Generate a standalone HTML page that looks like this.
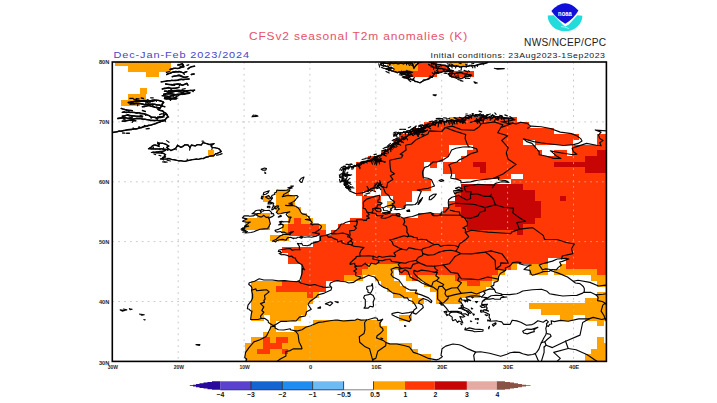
<!DOCTYPE html><html><head><meta charset="utf-8"><title>CFSv2</title><style>html,body{margin:0;padding:0;background:#fff}body{width:717px;height:403px;overflow:hidden;font-family:"Liberation Sans",sans-serif}svg{display:block}text{font-family:"Liberation Sans",sans-serif}</style></head><body>
<svg width="717" height="403" viewBox="0 0 717 403">
<rect width="717" height="403" fill="#fff"/>
<g shape-rendering="crispEdges" id="cells">
<rect x="115.2" y="61.8" width="56.0" height="4.2" fill="#ffa200"/>
<rect x="386.9" y="61.8" width="31.3" height="4.2" fill="#ffa200"/>
<rect x="417.8" y="61.8" width="18.9" height="4.2" fill="#ff3805"/>
<rect x="448.7" y="61.8" width="18.9" height="4.2" fill="#ffa200"/>
<rect x="127.5" y="65.6" width="43.6" height="6.1" fill="#ffa200"/>
<rect x="393.1" y="65.6" width="25.1" height="6.1" fill="#ffa200"/>
<rect x="417.8" y="65.6" width="31.3" height="6.1" fill="#ff3805"/>
<rect x="146.1" y="71.2" width="12.8" height="6.1" fill="#ffa200"/>
<rect x="405.5" y="71.2" width="31.3" height="6.1" fill="#ff3805"/>
<rect x="448.7" y="71.2" width="25.1" height="6.1" fill="#ff3805"/>
<rect x="139.9" y="88.2" width="6.6" height="6.1" fill="#ffa200"/>
<rect x="127.5" y="93.9" width="18.9" height="6.1" fill="#ffa200"/>
<rect x="121.4" y="99.5" width="18.9" height="6.1" fill="#ffa200"/>
<rect x="448.7" y="116.5" width="6.6" height="6.1" fill="#ffa200"/>
<rect x="454.9" y="116.5" width="62.2" height="6.1" fill="#ff3805"/>
<rect x="424.0" y="122.2" width="105.4" height="6.1" fill="#ff3805"/>
<rect x="411.6" y="127.8" width="142.5" height="6.1" fill="#ff3805"/>
<rect x="399.3" y="133.5" width="179.5" height="6.1" fill="#ff3805"/>
<rect x="596.9" y="133.5" width="9.7" height="6.1" fill="#ff3805"/>
<rect x="393.1" y="139.1" width="130.1" height="6.1" fill="#ff3805"/>
<rect x="535.2" y="139.1" width="37.5" height="6.1" fill="#ff3805"/>
<rect x="596.9" y="139.1" width="9.7" height="6.1" fill="#ff3805"/>
<rect x="386.9" y="144.8" width="62.2" height="6.1" fill="#ff3805"/>
<rect x="473.4" y="144.8" width="62.2" height="6.1" fill="#ff3805"/>
<rect x="572.2" y="144.8" width="34.4" height="6.1" fill="#ff3805"/>
<rect x="207.8" y="150.4" width="6.6" height="6.1" fill="#ffa200"/>
<rect x="380.8" y="150.4" width="68.3" height="6.1" fill="#ff3805"/>
<rect x="467.2" y="150.4" width="74.5" height="6.1" fill="#ff3805"/>
<rect x="553.7" y="150.4" width="12.8" height="6.1" fill="#ff3805"/>
<rect x="572.2" y="150.4" width="25.1" height="6.1" fill="#ff3805"/>
<rect x="596.9" y="150.4" width="9.7" height="6.1" fill="#c80505"/>
<rect x="368.4" y="156.1" width="74.5" height="6.1" fill="#ff3805"/>
<rect x="461.1" y="156.1" width="123.9" height="6.1" fill="#ff3805"/>
<rect x="584.6" y="156.1" width="22.0" height="6.1" fill="#c80505"/>
<rect x="356.1" y="161.8" width="68.3" height="6.1" fill="#ff3805"/>
<rect x="430.2" y="161.8" width="6.6" height="6.1" fill="#ff3805"/>
<rect x="442.5" y="161.8" width="31.3" height="6.1" fill="#ff3805"/>
<rect x="473.4" y="161.8" width="12.8" height="6.1" fill="#c80505"/>
<rect x="485.8" y="161.8" width="68.3" height="6.1" fill="#ff3805"/>
<rect x="553.7" y="161.8" width="52.9" height="6.1" fill="#c80505"/>
<rect x="356.1" y="167.4" width="68.3" height="6.1" fill="#ff3805"/>
<rect x="442.5" y="167.4" width="37.5" height="6.1" fill="#ff3805"/>
<rect x="479.6" y="167.4" width="6.6" height="6.1" fill="#c80505"/>
<rect x="485.8" y="167.4" width="99.2" height="6.1" fill="#ff3805"/>
<rect x="584.6" y="167.4" width="22.0" height="6.1" fill="#c80505"/>
<rect x="356.1" y="173.1" width="68.3" height="6.1" fill="#ff3805"/>
<rect x="454.9" y="173.1" width="56.0" height="6.1" fill="#ff3805"/>
<rect x="522.8" y="173.1" width="83.8" height="6.1" fill="#ff3805"/>
<rect x="356.1" y="178.7" width="74.5" height="6.1" fill="#ff3805"/>
<rect x="510.5" y="178.7" width="96.1" height="6.1" fill="#ff3805"/>
<rect x="356.1" y="184.4" width="18.9" height="6.1" fill="#ff3805"/>
<rect x="380.8" y="184.4" width="49.8" height="6.1" fill="#ff3805"/>
<rect x="461.1" y="184.4" width="62.2" height="6.1" fill="#c80505"/>
<rect x="522.8" y="184.4" width="83.8" height="6.1" fill="#ff3805"/>
<rect x="275.8" y="190.0" width="12.8" height="6.1" fill="#ffa200"/>
<rect x="356.1" y="190.0" width="6.6" height="6.1" fill="#ff3805"/>
<rect x="380.8" y="190.0" width="31.3" height="6.1" fill="#ff3805"/>
<rect x="454.9" y="190.0" width="6.6" height="6.1" fill="#ff3805"/>
<rect x="461.1" y="190.0" width="74.5" height="6.1" fill="#c80505"/>
<rect x="535.2" y="190.0" width="71.4" height="6.1" fill="#ff3805"/>
<rect x="263.4" y="195.7" width="6.6" height="6.1" fill="#ffa200"/>
<rect x="275.8" y="195.7" width="18.9" height="6.1" fill="#ffa200"/>
<rect x="362.2" y="195.7" width="18.9" height="6.1" fill="#ff3805"/>
<rect x="393.1" y="195.7" width="18.9" height="6.1" fill="#ff3805"/>
<rect x="454.9" y="195.7" width="80.7" height="6.1" fill="#c80505"/>
<rect x="535.2" y="195.7" width="25.1" height="6.1" fill="#ff3805"/>
<rect x="559.9" y="195.7" width="6.6" height="6.1" fill="#c80505"/>
<rect x="566.1" y="195.7" width="40.5" height="6.1" fill="#ff3805"/>
<rect x="275.8" y="201.4" width="18.9" height="6.1" fill="#ffa200"/>
<rect x="362.2" y="201.4" width="18.9" height="6.1" fill="#ff3805"/>
<rect x="386.9" y="201.4" width="6.6" height="6.1" fill="#ffa200"/>
<rect x="393.1" y="201.4" width="12.8" height="6.1" fill="#ff3805"/>
<rect x="448.7" y="201.4" width="6.6" height="6.1" fill="#ff3805"/>
<rect x="454.9" y="201.4" width="86.9" height="6.1" fill="#c80505"/>
<rect x="541.3" y="201.4" width="65.3" height="6.1" fill="#ff3805"/>
<rect x="275.8" y="207.0" width="25.1" height="6.1" fill="#ffa200"/>
<rect x="362.2" y="207.0" width="18.9" height="6.1" fill="#ff3805"/>
<rect x="442.5" y="207.0" width="18.9" height="6.1" fill="#ff3805"/>
<rect x="461.1" y="207.0" width="80.7" height="6.1" fill="#c80505"/>
<rect x="541.3" y="207.0" width="65.3" height="6.1" fill="#ff3805"/>
<rect x="257.2" y="212.7" width="12.8" height="6.1" fill="#ffa200"/>
<rect x="288.1" y="212.7" width="18.9" height="6.1" fill="#ffa200"/>
<rect x="362.2" y="212.7" width="37.5" height="6.1" fill="#ff3805"/>
<rect x="417.8" y="212.7" width="43.6" height="6.1" fill="#ff3805"/>
<rect x="461.1" y="212.7" width="80.7" height="6.1" fill="#c80505"/>
<rect x="541.3" y="212.7" width="65.3" height="6.1" fill="#ff3805"/>
<rect x="244.9" y="218.3" width="25.1" height="6.1" fill="#ffa200"/>
<rect x="288.1" y="218.3" width="6.6" height="6.1" fill="#ffa200"/>
<rect x="294.3" y="218.3" width="6.6" height="6.1" fill="#ff3805"/>
<rect x="300.5" y="218.3" width="12.8" height="6.1" fill="#ffa200"/>
<rect x="349.9" y="218.3" width="117.7" height="6.1" fill="#ff3805"/>
<rect x="467.2" y="218.3" width="68.3" height="6.1" fill="#c80505"/>
<rect x="535.2" y="218.3" width="71.4" height="6.1" fill="#ff3805"/>
<rect x="244.9" y="224.0" width="25.1" height="6.1" fill="#ffa200"/>
<rect x="281.9" y="224.0" width="6.6" height="6.1" fill="#ffa200"/>
<rect x="288.1" y="224.0" width="31.3" height="6.1" fill="#ff3805"/>
<rect x="319.0" y="224.0" width="6.6" height="6.1" fill="#ffa200"/>
<rect x="337.5" y="224.0" width="130.1" height="6.1" fill="#ff3805"/>
<rect x="467.2" y="224.0" width="56.0" height="6.1" fill="#c80505"/>
<rect x="522.8" y="224.0" width="83.8" height="6.1" fill="#ff3805"/>
<rect x="281.9" y="229.7" width="6.6" height="6.1" fill="#ffa200"/>
<rect x="288.1" y="229.7" width="37.5" height="6.1" fill="#ff3805"/>
<rect x="331.4" y="229.7" width="185.7" height="6.1" fill="#ff3805"/>
<rect x="516.6" y="229.7" width="6.6" height="6.1" fill="#c80505"/>
<rect x="522.8" y="229.7" width="83.8" height="6.1" fill="#ff3805"/>
<rect x="269.6" y="235.3" width="18.9" height="6.1" fill="#ffa200"/>
<rect x="319.0" y="235.3" width="287.6" height="6.1" fill="#ff3805"/>
<rect x="312.8" y="241.0" width="293.8" height="6.1" fill="#ff3805"/>
<rect x="281.9" y="246.6" width="324.7" height="6.1" fill="#ff3805"/>
<rect x="288.1" y="252.3" width="318.5" height="6.1" fill="#ff3805"/>
<rect x="288.1" y="257.9" width="259.8" height="6.1" fill="#ff3805"/>
<rect x="566.1" y="257.9" width="40.5" height="6.1" fill="#ff3805"/>
<rect x="300.5" y="263.6" width="68.3" height="6.1" fill="#ff3805"/>
<rect x="368.4" y="263.6" width="31.3" height="6.1" fill="#ffa200"/>
<rect x="399.3" y="263.6" width="111.6" height="6.1" fill="#ff3805"/>
<rect x="510.5" y="263.6" width="6.6" height="6.1" fill="#ffa200"/>
<rect x="529.0" y="263.6" width="18.9" height="6.1" fill="#ffa200"/>
<rect x="559.9" y="263.6" width="6.6" height="6.1" fill="#ffa200"/>
<rect x="566.1" y="263.6" width="40.5" height="6.1" fill="#ff3805"/>
<rect x="300.5" y="269.3" width="62.2" height="6.1" fill="#ff3805"/>
<rect x="362.2" y="269.3" width="31.3" height="6.1" fill="#ffa200"/>
<rect x="399.3" y="269.3" width="99.2" height="6.1" fill="#ff3805"/>
<rect x="498.1" y="269.3" width="6.6" height="6.1" fill="#ffa200"/>
<rect x="529.0" y="269.3" width="18.9" height="6.1" fill="#ffa200"/>
<rect x="553.7" y="269.3" width="43.6" height="6.1" fill="#ffa200"/>
<rect x="596.9" y="269.3" width="9.7" height="6.1" fill="#ff3805"/>
<rect x="300.5" y="274.9" width="43.6" height="6.1" fill="#ff3805"/>
<rect x="343.7" y="274.9" width="18.9" height="6.1" fill="#ffa200"/>
<rect x="374.6" y="274.9" width="18.9" height="6.1" fill="#ffa200"/>
<rect x="405.5" y="274.9" width="6.6" height="6.1" fill="#ffa200"/>
<rect x="411.6" y="274.9" width="6.6" height="6.1" fill="#ff3805"/>
<rect x="417.8" y="274.9" width="37.5" height="6.1" fill="#ffa200"/>
<rect x="454.9" y="274.9" width="37.5" height="6.1" fill="#ff3805"/>
<rect x="491.9" y="274.9" width="6.6" height="6.1" fill="#ffa200"/>
<rect x="590.8" y="274.9" width="15.8" height="6.1" fill="#ffa200"/>
<rect x="251.1" y="280.6" width="31.3" height="6.1" fill="#ffa200"/>
<rect x="281.9" y="280.6" width="43.6" height="6.1" fill="#ff3805"/>
<rect x="380.8" y="280.6" width="18.9" height="6.1" fill="#ffa200"/>
<rect x="424.0" y="280.6" width="43.6" height="6.1" fill="#ffa200"/>
<rect x="467.2" y="280.6" width="12.8" height="6.1" fill="#ff3805"/>
<rect x="479.6" y="280.6" width="12.8" height="6.1" fill="#ffa200"/>
<rect x="596.9" y="280.6" width="9.7" height="6.1" fill="#ffa200"/>
<rect x="251.1" y="286.2" width="25.1" height="6.1" fill="#ffa200"/>
<rect x="275.8" y="286.2" width="49.8" height="6.1" fill="#ff3805"/>
<rect x="386.9" y="286.2" width="18.9" height="6.1" fill="#ffa200"/>
<rect x="430.2" y="286.2" width="56.0" height="6.1" fill="#ffa200"/>
<rect x="251.1" y="291.9" width="56.0" height="6.1" fill="#ffa200"/>
<rect x="306.7" y="291.9" width="6.6" height="6.1" fill="#ff3805"/>
<rect x="312.8" y="291.9" width="6.6" height="6.1" fill="#ffa200"/>
<rect x="393.1" y="291.9" width="25.1" height="6.1" fill="#ffa200"/>
<rect x="436.4" y="291.9" width="43.6" height="6.1" fill="#ffa200"/>
<rect x="596.9" y="291.9" width="9.7" height="6.1" fill="#ffa200"/>
<rect x="251.1" y="297.5" width="62.2" height="6.1" fill="#ffa200"/>
<rect x="411.6" y="297.5" width="12.8" height="6.1" fill="#ffa200"/>
<rect x="436.4" y="297.5" width="25.1" height="6.1" fill="#ffa200"/>
<rect x="584.6" y="297.5" width="22.0" height="6.1" fill="#ffa200"/>
<rect x="251.1" y="303.2" width="56.0" height="6.1" fill="#ffa200"/>
<rect x="529.0" y="303.2" width="77.6" height="6.1" fill="#ffa200"/>
<rect x="251.1" y="308.9" width="56.0" height="6.1" fill="#ffa200"/>
<rect x="541.3" y="308.9" width="65.3" height="6.1" fill="#ffa200"/>
<rect x="251.1" y="314.5" width="12.8" height="6.1" fill="#ffa200"/>
<rect x="269.6" y="314.5" width="31.3" height="6.1" fill="#ffa200"/>
<rect x="399.3" y="314.5" width="12.8" height="6.1" fill="#ffa200"/>
<rect x="559.9" y="314.5" width="12.8" height="6.1" fill="#ffa200"/>
<rect x="584.6" y="314.5" width="22.0" height="6.1" fill="#ffa200"/>
<rect x="269.6" y="320.2" width="6.6" height="6.1" fill="#ffa200"/>
<rect x="312.8" y="320.2" width="68.3" height="6.1" fill="#ffa200"/>
<rect x="596.9" y="320.2" width="6.6" height="6.1" fill="#ffa200"/>
<rect x="269.6" y="325.8" width="6.6" height="6.1" fill="#ffa200"/>
<rect x="294.3" y="325.8" width="93.0" height="6.1" fill="#ffa200"/>
<rect x="263.4" y="331.5" width="123.9" height="6.1" fill="#ffa200"/>
<rect x="251.1" y="337.2" width="12.8" height="6.1" fill="#ffa200"/>
<rect x="263.4" y="337.2" width="6.6" height="6.1" fill="#ff3805"/>
<rect x="269.6" y="337.2" width="6.6" height="6.1" fill="#ffa200"/>
<rect x="275.8" y="337.2" width="12.8" height="6.1" fill="#ff3805"/>
<rect x="288.1" y="337.2" width="99.2" height="6.1" fill="#ffa200"/>
<rect x="596.9" y="337.2" width="6.6" height="6.1" fill="#ffa200"/>
<rect x="244.9" y="342.8" width="18.9" height="6.1" fill="#ffa200"/>
<rect x="263.4" y="342.8" width="18.9" height="6.1" fill="#ff3805"/>
<rect x="281.9" y="342.8" width="130.1" height="6.1" fill="#ffa200"/>
<rect x="596.9" y="342.8" width="9.7" height="6.1" fill="#ffa200"/>
<rect x="244.9" y="348.5" width="12.8" height="6.1" fill="#ffa200"/>
<rect x="257.2" y="348.5" width="12.8" height="6.1" fill="#ff3805"/>
<rect x="269.6" y="348.5" width="12.8" height="6.1" fill="#ffa200"/>
<rect x="281.9" y="348.5" width="6.6" height="6.1" fill="#ff3805"/>
<rect x="288.1" y="348.5" width="130.1" height="6.1" fill="#ffa200"/>
<rect x="590.8" y="348.5" width="15.8" height="6.1" fill="#ffa200"/>
<rect x="244.9" y="354.1" width="185.7" height="6.1" fill="#ffa200"/>
<rect x="584.6" y="354.1" width="22.0" height="6.1" fill="#ffa200"/>
<rect x="244.9" y="359.8" width="185.7" height="1.8" fill="#ffa200"/>
<rect x="584.6" y="359.8" width="22.0" height="1.8" fill="#ffa200"/>
</g>
<g stroke="#bdbdbd" stroke-width="0.8" stroke-dasharray="1.8 4.1" fill="none" id="gridlines">
<line x1="178.2" y1="62.0" x2="178.2" y2="361.4"/>
<line x1="244.1" y1="62.0" x2="244.1" y2="361.4"/>
<line x1="309.9" y1="62.0" x2="309.9" y2="361.4"/>
<line x1="375.8" y1="62.0" x2="375.8" y2="361.4"/>
<line x1="441.7" y1="62.0" x2="441.7" y2="361.4"/>
<line x1="507.6" y1="62.0" x2="507.6" y2="361.4"/>
<line x1="573.5" y1="62.0" x2="573.5" y2="361.4"/>
<line x1="112.3" y1="301.5" x2="606.4" y2="301.5"/>
<line x1="112.3" y1="241.6" x2="606.4" y2="241.6"/>
<line x1="112.3" y1="181.8" x2="606.4" y2="181.8"/>
<line x1="112.3" y1="121.9" x2="606.4" y2="121.9"/>
</g>
<clipPath id="fc"><rect x="112.3" y="62.0" width="494.1" height="299.4"/></clipPath>
<g clip-path="url(#fc)"><g id="coast" fill="none" stroke="#050505" stroke-width="1.15" stroke-linejoin="round" stroke-linecap="round">
<path d="M298.1 281.2 L296.8 281.8 L290.2 281.2 L284.9 280.6 L278.3 280.9 L272.4 280.0 L263.8 280.0 L259.2 278.8 L254.6 281.2 L249.3 282.7 L248.7 284.2 L251.3 286.5 L252.0 288.3 L251.6 290.3 L252.6 294.3 L252.6 297.9 L251.3 300.9 L248.0 305.1 L247.4 308.7 L249.3 309.3 L250.6 310.8 L252.0 311.1 L251.3 314.1 L250.6 319.5 L257.9 319.5 L261.2 318.5 L264.5 318.3 L268.1 320.7 L268.4 322.5 L273.0 325.5 L275.0 324.9 L281.0 321.3 L286.9 321.3 L293.5 320.7 L296.1 321.0 L299.4 317.1 L305.3 315.9 L306.6 311.7 L311.3 309.3 L308.0 304.5 L309.9 301.5 L315.9 297.3 L317.8 294.9 L324.4 293.1 L331.0 290.1 L331.7 287.7 L329.7 285.4 L330.4 283.0 L334.3 281.2 L337.6 280.6 L340.2 281.2 L345.5 281.8 L348.8 283.0 L353.4 282.4 L356.1 280.6 L359.3 278.8 L364.0 277.6 L368.6 275.2 L374.5 277.0 L377.8 280.6 L379.1 284.2 L383.1 287.1 L387.7 288.9 L390.3 291.3 L392.9 293.1 L399.5 294.3 L403.5 296.7 L404.1 297.9 L407.4 297.9 L408.8 300.3 L412.7 301.5 L415.3 305.1 L416.7 308.1 L414.0 309.9 L413.0 312.9 L416.0 314.1 L419.3 311.1 L423.3 307.5 L422.6 305.1 L418.6 303.3 L419.3 300.9 L423.3 298.5 L427.9 300.3 L431.2 302.7 L431.8 300.9 L428.5 297.9 L421.3 294.9 L415.3 293.1 L416.7 290.1 L410.7 290.1 L408.8 289.5 L403.5 286.5 L398.9 280.0 L392.9 277.0 L391.0 274.6 L392.3 272.2 L391.0 269.2 L396.2 267.4 L400.9 268.0 L398.9 268.9 L399.5 271.6 L401.5 272.8 L403.5 271.0 L404.8 269.8 L408.1 271.6 L410.1 277.0 L414.7 279.4 L418.0 280.6 L421.9 283.0 L429.2 286.0 L433.1 287.1 L435.8 288.9 L437.7 290.7 L437.7 293.7 L437.7 299.1 L441.0 302.1 L441.7 303.3 L443.0 304.5 L446.3 308.1 L448.9 311.7 L450.9 311.4 L453.6 311.4 L457.5 311.4 L461.5 312.3 L461.5 313.8 L456.9 312.3 L453.2 312.0 L450.3 312.6 L448.9 314.7 L452.2 317.1 L452.2 319.5 L452.9 320.7 L455.5 319.5 L457.5 322.5 L458.8 321.0 L462.8 322.8 L461.5 320.1 L459.8 316.5 L462.8 317.1 L464.8 316.5 L461.5 314.1 L465.4 313.8 L468.1 315.6 L468.7 313.5 L466.1 310.5 L463.4 309.6 L460.8 308.4 L458.8 308.4 L461.5 307.5 L461.1 305.4 L463.4 306.6 L462.8 305.1 L460.8 302.1 L458.8 301.5 L459.5 299.1 L460.8 297.9 L461.5 299.7 L464.1 300.3 L465.4 301.8 L464.8 300.0 L467.7 301.8 L466.7 299.7 L470.7 300.6 L467.4 299.1 L466.1 297.3 L470.7 296.1 L474.6 295.8 L480.6 296.4 L481.6 297.0 L486.5 297.6 L482.5 301.2 L485.8 299.1 L491.1 295.8 L495.7 295.2 L500.7 295.5 L501.7 294.0 L495.7 292.5 L494.4 289.5 L491.1 286.5 L493.7 285.4 L494.1 282.4 L497.7 281.2 L498.4 279.1 L498.7 276.4 L500.3 273.4 L505.6 270.4 L505.3 268.0 L508.9 266.5 L510.9 265.0 L512.5 262.6 L517.5 262.0 L520.8 262.6 L519.4 263.8 L524.0 265.0 L531.3 265.0 L527.3 266.8 L524.0 269.5 L530.0 270.4 L531.0 274.0 L532.3 275.2 L534.9 274.6 L540.5 272.8 L543.2 271.6 L549.7 271.3 L550.4 269.5 L545.8 268.9 L542.5 269.8 L539.2 265.0 L542.5 263.8 L552.4 261.1 L557.3 259.0 L566.2 258.4 L568.8 259.0 L562.3 261.4 L559.6 262.0 L561.3 265.3 L558.3 267.4 L556.3 269.8 L551.7 269.5 L551.1 270.7 L555.7 272.2 L559.0 273.4 L567.5 277.0 L571.5 280.0 L575.4 283.0 L580.0 283.6 L583.3 286.5 L584.3 288.6 L584.3 291.6 L582.7 293.1 L576.8 295.4 L571.5 295.5 L562.9 296.0 L559.6 295.5 L554.4 294.6 L549.4 293.7 L547.1 291.3 L541.5 289.2 L532.3 289.7 L522.7 291.0 L519.4 292.8 L516.8 293.7 L509.6 294.6 L504.9 294.5 L501.7 294.3 L501.3 295.5 L504.3 297.0 L506.9 297.0 L501.0 297.6 L500.3 299.3 L494.4 299.1 L493.1 298.5 L489.8 299.1 L485.8 299.1 L483.9 300.6 L482.2 301.8 L481.6 304.5 L487.5 304.2 L485.8 305.7 L487.2 308.1 L486.2 309.6 L488.5 311.1 L483.9 309.6 L483.2 311.7 L486.5 312.9 L489.5 314.4 L489.1 317.4 L490.5 319.5 L489.8 321.3 L496.4 320.7 L498.4 321.3 L501.7 321.9 L503.6 324.3 L510.2 324.3 L512.2 320.2 L516.8 320.9 L520.8 322.2 L526.4 325.3 L532.0 324.6 L533.9 323.7 L537.9 320.7 L543.2 322.2 L546.4 320.1 L548.4 321.9 L546.4 323.7 L546.8 325.2 L545.8 328.5 L546.4 332.1 L545.8 334.8 L543.8 338.0 L542.8 340.1 L541.8 341.9 L540.5 344.6 L538.9 349.1 L536.6 352.4 L535.2 353.6 L532.6 354.5 L528.0 355.1 L522.7 353.8 L519.4 352.4 L514.2 352.1 L510.2 352.7 L506.9 354.2 L500.7 356.3 L489.5 353.3 L480.6 351.8 L475.6 352.1 L468.1 348.9 L462.1 345.8 L459.2 344.8 L452.9 344.0 L445.7 346.1 L442.0 348.8 L441.0 355.4 L442.4 356.6 L439.1 359.0 L436.4 359.9 L428.5 358.4 L419.3 354.2 L413.4 352.4 L409.4 347.0 L404.1 345.5 L396.9 344.0 L389.7 343.9 L386.0 342.5 L383.1 340.4 L376.5 338.0 L377.1 335.7 L380.8 333.0 L383.1 330.3 L382.7 328.5 L380.1 326.5 L379.8 323.1 L382.7 319.2 L379.8 320.4 L377.8 320.4 L377.1 318.3 L374.8 317.7 L367.6 319.8 L361.0 320.1 L357.4 319.0 L355.4 320.1 L347.8 320.6 L343.5 321.0 L337.6 320.1 L335.6 320.0 L330.0 320.7 L323.1 321.9 L318.5 322.4 L310.6 325.8 L305.7 327.3 L302.0 329.7 L297.8 330.9 L295.4 330.9 L290.5 329.7 L290.2 328.8 L283.9 330.0 L278.3 329.7 L275.0 327.9 L275.0 326.1 L270.9 326.7 L270.1 328.8 L269.4 330.3 L266.5 336.0 L264.8 337.3 L259.9 339.8 L253.9 341.9 L249.0 347.6 L245.6 352.4 L244.7 357.6 L246.7 359.0 L246.0 361.4"/>
<path d="M298.1 281.2 L299.7 280.6 L300.7 277.6 L302.0 273.7 L302.4 268.6 L304.7 269.8 L303.4 268.0 L302.0 264.7 L298.1 262.6 L296.1 260.2 L295.4 258.1 L293.5 257.8 L291.5 256.0 L289.5 256.6 L287.5 255.4 L283.6 254.5 L281.3 254.8 L279.0 253.3 L281.6 253.0 L280.3 251.5 L278.3 251.5 L279.0 250.0 L283.6 249.4 L286.9 248.8 L290.2 248.5 L292.2 250.3 L294.8 249.7 L296.8 249.7 L300.1 249.7 L299.4 248.5 L299.4 246.4 L297.4 243.4 L299.4 243.7 L301.7 243.4 L302.7 245.2 L307.3 245.8 L310.6 244.6 L311.3 243.4 L312.6 243.1 L317.2 241.9 L320.5 240.4 L320.5 237.4 L320.5 236.4 L322.1 236.0 L325.8 235.4 L329.0 234.2 L331.0 233.6 L333.7 233.0 L334.3 231.5 L337.0 229.7 L338.9 227.9 L341.2 224.0 L343.5 223.7 L345.5 222.5 L349.5 221.3 L355.4 221.3 L357.4 221.9 L356.4 220.1 L357.4 219.8 L362.6 219.5 L363.6 220.7 L364.6 220.1 L366.3 220.4 L367.3 218.3 L369.2 218.3 L368.6 217.1 L366.6 215.9 L369.2 214.7 L367.3 212.3 L365.3 208.7 L363.3 208.4 L363.6 205.7 L363.3 202.7 L364.0 201.5 L366.6 199.1 L375.5 196.1 L379.8 195.2 L379.4 197.3 L379.1 199.7 L377.8 200.0 L377.8 202.1 L381.7 202.7 L382.1 203.3 L380.4 204.8 L377.5 204.8 L377.1 206.9 L374.2 208.4 L372.5 208.7 L373.2 210.5 L372.2 211.7 L372.2 212.9 L375.8 213.5 L376.8 215.6 L381.1 215.6 L383.1 215.3 L381.1 217.7 L381.7 218.0 L385.4 218.3 L389.7 216.8 L392.3 215.0 L395.6 215.3 L400.2 216.8 L403.5 218.3 L407.4 217.4 L412.4 216.5 L418.6 214.4 L425.6 213.2 L430.5 212.6 L433.8 214.1 L431.5 213.2 L432.1 214.7 L433.1 215.6 L437.7 215.6 L441.0 215.0 L441.0 213.8 L441.4 212.0 L445.0 212.0 L448.9 207.5 L448.6 206.3 L448.3 202.7 L448.6 199.7 L451.9 197.3 L458.8 195.2 L462.1 197.6 L466.7 199.9 L468.7 199.4 L470.7 198.5 L470.4 195.2 L471.3 191.6 L466.1 191.6 L464.8 189.5 L464.8 188.0 L464.1 186.6 L468.4 185.7 L473.0 185.1 L477.9 184.2 L484.5 184.8 L494.4 185.1 L495.1 183.6 L497.7 182.7 L501.7 181.8 L508.9 182.4 L505.6 180.6 L498.4 179.7 L499.0 177.6 L493.1 178.5 L487.5 179.1 L478.9 180.0 L474.3 180.9 L470.7 181.9 L461.1 182.8 L460.8 180.6 L456.5 179.1 L450.9 178.2 L450.9 177.0 L451.6 175.0 L451.3 172.2 L450.6 168.3 L448.9 165.0 L452.2 163.2 L456.9 162.0 L459.5 159.6 L462.1 158.7 L466.1 156.6 L471.0 153.6 L477.6 151.8 L476.6 148.8 L471.7 147.3 L469.0 146.7 L462.8 147.0 L455.9 148.2 L451.6 150.0 L449.9 153.6 L448.3 156.6 L443.7 159.6 L437.1 162.0 L433.1 162.0 L428.2 166.2 L424.6 167.4 L422.6 171.6 L422.6 174.0 L423.3 177.6 L427.9 178.2 L431.5 179.7 L433.1 183.3 L434.5 186.0 L428.2 188.3 L421.9 189.2 L417.3 190.1 L421.3 191.3 L419.6 195.2 L418.3 198.2 L417.7 201.8 L415.3 204.5 L412.7 204.8 L406.8 204.8 L404.1 206.3 L404.5 208.4 L400.9 209.3 L396.6 209.6 L394.3 209.3 L395.6 208.1 L393.6 205.4 L392.0 203.9 L394.3 203.0 L394.6 201.8 L390.6 199.1 L388.7 195.5 L385.7 193.1 L385.0 191.9 L383.4 188.0 L383.1 187.1 L382.1 186.6 L380.1 185.1 L380.4 182.4 L378.8 184.2 L379.1 186.0 L376.1 187.7 L371.9 188.6 L367.9 191.0 L362.6 192.8 L356.4 193.7 L354.7 193.1 L349.5 191.0 L347.5 188.0 L350.1 187.7 L346.8 186.0 L344.5 185.4 L344.2 183.0 L347.5 182.4 L343.5 180.6 L342.6 179.4 L342.2 177.0 L342.9 175.5 L349.5 175.2 L342.9 174.3 L342.9 172.2 L343.5 170.1 L343.5 168.6 L350.5 166.8 L357.0 165.3 L361.0 163.2 L365.9 161.4 L373.8 159.6 L381.1 161.1 L373.2 157.8 L379.1 155.4 L383.7 154.5 L383.7 152.7 L390.3 148.8 L392.9 145.8 L395.6 142.8 L404.8 138.0 L408.8 135.1 L412.7 133.3 L424.6 131.5 L415.3 131.5 L419.0 129.1 L425.2 127.3 L434.8 124.0 L438.4 121.9 L447.0 121.3 L451.6 120.1 L463.4 121.9 L466.1 118.0 L471.3 115.9 L479.9 115.0 L484.5 116.5 L474.6 121.3 L483.2 119.5 L492.4 115.3 L497.7 118.9 L497.7 116.5 L505.6 117.7 L514.8 119.8 L505.9 121.5 L501.0 121.6 L507.9 123.4 L512.9 123.1 L516.1 124.0 L520.8 122.2 L527.3 123.4 L530.6 126.1 L527.7 128.2 L531.3 126.1 L541.2 126.7 L550.4 128.5 L560.3 132.1 L571.5 133.6 L576.8 135.7 L580.7 138.6 L582.0 141.0 L578.1 143.4 L573.5 144.6 L563.6 145.5 L550.4 144.0 L540.5 142.8 L533.9 141.6 L523.4 138.9 L526.7 141.6 L532.0 143.4 L539.2 151.8 L539.2 154.8 L545.8 156.0 L553.7 158.4 L560.9 158.4 L555.7 155.4 L552.4 152.4 L550.4 150.9 L560.3 152.7 L571.5 154.5 L576.8 154.2 L573.5 151.8 L572.1 148.2 L578.1 146.1 L586.6 143.4 L596.5 145.2 L601.1 145.8 L599.8 142.8 L603.1 140.4 L599.8 138.6 L598.5 135.1 L601.1 132.1 L595.2 130.0 L606.4 130.9"/>
<path d="M272.4 241.2 L273.7 240.4 L276.3 239.2 L277.3 238.3 L280.3 235.7 L282.3 235.1 L282.9 234.5 L286.9 234.5 L290.2 234.5 L290.2 233.6 L292.2 232.4 L293.5 231.5 L290.2 232.4 L288.9 233.0 L286.2 233.3 L283.9 232.1 L281.6 232.4 L281.0 231.5 L279.0 231.8 L277.0 232.1 L275.7 231.5 L275.0 230.4 L277.0 229.7 L279.0 229.1 L282.9 227.3 L283.3 225.2 L282.6 224.3 L278.6 224.9 L280.3 223.7 L281.6 222.8 L279.3 221.9 L281.6 221.3 L283.3 221.9 L284.6 221.7 L287.5 221.7 L289.5 222.2 L288.9 221.3 L289.8 221.0 L289.8 219.8 L289.8 218.9 L291.2 217.1 L288.5 217.1 L286.2 214.7 L286.6 213.8 L288.2 212.3 L289.8 211.9 L286.2 212.5 L283.6 212.9 L281.0 213.5 L278.0 213.9 L276.3 212.3 L277.0 211.7 L278.0 210.2 L279.3 209.0 L277.7 207.5 L278.6 206.0 L277.7 205.7 L275.0 206.6 L273.4 209.3 L271.7 209.9 L272.4 207.5 L274.0 205.7 L273.0 205.1 L273.7 203.3 L272.4 202.7 L269.1 201.4 L271.4 199.7 L272.4 197.9 L271.4 196.4 L272.4 195.2 L275.0 194.3 L274.4 193.1 L276.3 192.2 L277.0 190.0 L279.0 190.4 L283.6 190.4 L286.9 190.1 L287.5 189.7 L289.8 189.9 L289.5 191.0 L286.9 192.8 L283.6 194.5 L283.3 195.5 L282.3 196.7 L284.6 196.1 L288.2 195.4 L293.5 195.7 L296.8 195.5 L298.2 196.7 L296.1 198.8 L295.4 200.0 L293.8 201.5 L290.5 203.0 L288.9 203.3 L291.5 203.6 L292.8 204.0 L289.2 205.1 L287.5 205.7 L285.6 205.4 L288.9 205.8 L292.2 205.4 L293.5 205.7 L295.8 206.3 L296.8 207.1 L298.1 207.8 L299.4 209.3 L300.5 211.7 L300.9 212.3 L302.0 213.5 L302.4 213.9 L306.0 214.7 L307.3 216.0 L309.4 217.0 L308.6 217.2 L310.6 220.1 L307.6 219.4 L305.3 219.5 L309.5 220.3 L311.3 221.3 L312.2 222.8 L310.6 224.0 L312.6 224.9 L313.2 224.0 L318.5 224.1 L321.4 226.1 L321.5 226.8 L320.5 228.8 L318.8 230.0 L317.5 231.0 L316.2 231.2 L316.2 232.1 L314.6 232.5 L312.6 232.8 L314.9 233.0 L316.7 233.4 L319.0 233.3 L319.3 233.7 L319.2 234.3 L318.6 234.9 L317.7 235.2 L316.3 236.2 L313.8 236.6 L311.6 237.2 L309.0 236.7 L304.7 237.3 L302.7 236.8 L300.7 236.3 L301.4 236.8 L299.7 237.1 L297.6 237.3 L296.4 238.2 L293.8 238.0 L293.7 238.6 L290.6 237.3 L287.5 237.9 L286.8 238.9 L286.0 240.3 L282.7 239.4 L279.4 239.7 L276.7 240.7 L275.7 241.9 L273.5 240.9 L272.4 241.2"/>
<path d="M261.4 209.4 L264.2 210.2 L263.2 211.1 L264.2 210.5 L266.1 210.5 L269.4 210.3 L271.7 212.6 L271.1 213.8 L273.4 213.6 L274.0 215.3 L272.7 216.4 L269.8 217.6 L268.1 217.7 L269.1 218.9 L269.8 221.6 L269.9 222.5 L270.4 223.9 L269.6 224.9 L269.1 226.4 L268.1 227.7 L268.0 228.6 L264.3 228.9 L259.9 229.2 L258.2 230.0 L255.6 230.9 L253.9 231.8 L251.0 232.5 L248.3 232.8 L245.2 233.0 L247.4 231.5 L242.7 232.2 L246.0 230.6 L241.8 230.3 L244.7 229.1 L241.0 229.1 L242.7 227.9 L245.0 228.0 L244.4 227.1 L248.7 226.1 L244.5 226.3 L247.6 224.0 L248.9 222.8 L250.3 222.1 L246.7 222.3 L242.5 221.3 L244.7 220.1 L247.0 218.9 L242.4 217.9 L244.1 215.9 L248.3 215.7 L249.3 216.2 L253.3 215.9 L256.6 213.9 L252.0 213.7 L254.3 212.3 L255.4 210.8 L257.4 210.3 L259.7 210.0 L260.5 211.4 L261.4 209.4"/>
<path d="M262.2 211.4 L260.2 213.2 L257.9 213.5 L256.2 215.0 L260.2 216.9 L261.8 216.9 L263.8 215.3 L266.1 217.4 L268.6 217.1"/>
<path d="M160.4 159.0 L165.3 156.9 L164.3 156.0 L165.7 154.5 L161.7 153.0 L151.5 152.5 L158.4 151.8 L163.7 151.2 L166.3 149.4 L161.7 148.8 L155.1 149.1 L148.5 148.8 L151.8 147.0 L152.5 145.8 L155.1 144.9 L159.1 146.4 L157.8 143.3 L162.4 143.0 L166.3 144.6 L169.0 146.1 L167.0 147.6 L170.9 150.6 L175.5 148.2 L177.5 145.2 L180.8 147.3 L184.8 144.9 L188.1 144.9 L190.0 147.6 L191.4 144.9 L195.3 145.8 L197.3 144.6 L201.2 144.9 L203.2 142.7 L205.2 143.1 L209.1 144.6 L214.1 143.6 L211.1 145.8 L212.4 147.3 L217.7 148.2 L220.3 150.0 L221.0 151.3 L218.4 153.0 L215.7 153.9 L213.8 155.4 L209.8 156.3 L203.2 158.4 L200.2 159.0 L192.7 159.6 L184.8 161.4 L176.9 160.5 L169.0 158.7 L160.4 159.0"/>
<path d="M364.0 308.1 L365.3 306.3 L365.3 299.7 L363.6 297.9 L364.6 295.5 L368.6 294.6 L370.5 294.0 L373.2 295.5 L374.5 298.5 L373.2 302.1 L373.5 305.7 L372.9 306.9 L369.9 306.3 L368.2 308.1 L364.0 308.1"/>
<path d="M372.2 283.6 L371.5 285.7 L366.9 286.5 L366.6 288.9 L367.9 290.1 L367.9 292.2 L370.5 293.3 L371.9 290.7 L372.9 288.3 L372.5 285.4 L372.2 283.6"/>
<path d="M392.0 313.5 L394.9 312.9 L397.9 312.3 L402.2 313.5 L408.8 312.6 L412.7 311.7 L410.7 314.7 L409.4 316.8 L410.7 319.5 L409.4 321.6 L404.8 320.1 L399.5 318.3 L394.9 316.2 L392.0 314.7 L392.0 313.5"/>
<path d="M325.4 303.9 L330.4 301.8 L332.7 303.0 L330.0 305.7 L327.7 304.5 L325.4 303.9"/>
<path d="M335.0 301.5 L338.3 302.1 L337.9 302.7 L335.0 301.5"/>
<path d="M317.8 308.1 L320.5 306.9 L320.5 308.1 L317.8 308.1"/>
<path d="M464.8 329.7 L469.4 327.9 L474.6 329.1 L479.9 329.4 L483.2 329.7 L482.9 331.2 L474.6 331.8 L472.7 330.9 L465.4 330.0 L464.8 329.7 L465.4 327.9 L464.8 329.7"/>
<path d="M522.7 331.2 L526.7 329.1 L531.6 329.4 L537.9 327.3 L533.9 329.7 L534.3 331.6 L531.3 332.4 L527.3 333.9 L523.7 333.0 L522.7 331.2"/>
<path d="M492.4 324.6 L495.7 322.8 L496.1 323.7 L493.4 326.1 L492.4 324.6"/>
<path d="M461.5 307.8 L464.1 307.5 L468.7 309.6 L471.7 312.6 L470.0 313.5 L468.4 311.1 L465.4 310.5 L462.8 308.7 L461.5 307.8"/>
<path d="M480.2 306.0 L483.9 305.4 L485.2 307.2 L481.9 307.5 L480.2 306.0"/>
<path d="M480.6 310.2 L482.2 310.2 L481.9 312.3 L480.6 312.0 L480.6 310.2"/>
<path d="M485.2 314.7 L488.1 315.0 L486.5 315.6 L485.2 314.7"/>
<path d="M439.4 303.0 L441.4 302.7 L441.0 304.8 L442.4 305.1 L439.4 303.0"/>
<path d="M444.0 311.7 L447.0 311.1 L446.6 312.9 L445.0 312.9 L444.0 311.7"/>
<path d="M446.0 314.1 L448.0 315.0 L447.0 315.6 L446.0 314.1"/>
<path d="M475.3 301.5 L477.6 301.5 L476.6 302.7 L475.3 301.5"/>
<path d="M471.7 297.0 L473.3 297.3 L472.3 297.9 L471.7 297.0"/>
<path d="M472.7 313.8 L474.3 314.4 L473.7 315.3 L472.7 313.8"/>
<path d="M477.3 318.6 L478.6 318.9 L477.9 319.8 L477.3 318.6"/>
<path d="M475.3 318.9 L476.3 318.9 L476.0 319.5 L475.3 318.9"/>
<path d="M470.4 321.0 L471.7 321.3 L471.0 321.6 L470.4 321.0"/>
<path d="M477.3 322.8 L477.9 323.1 L477.3 323.4 L477.3 322.8"/>
<path d="M487.5 320.1 L489.8 320.4 L487.8 321.0 L487.5 320.1"/>
<path d="M488.5 327.9 L489.5 326.4 L488.8 328.8 L488.5 327.9"/>
<path d="M460.8 323.7 L462.1 324.0 L461.5 324.6 L460.8 323.7"/>
<path d="M471.3 308.1 L472.7 308.7 L471.7 309.0 L471.3 308.1"/>
<path d="M404.5 325.5 L405.8 326.1 L404.8 326.5 L404.5 325.5"/>
<path d="M380.8 338.0 L382.7 338.6 L381.4 339.2 L380.8 338.0"/>
<path d="M381.7 207.5 L384.4 207.2 L387.3 206.0 L391.0 205.1 L392.9 205.7 L392.6 207.8 L390.3 209.0 L391.6 210.2 L389.0 212.0 L387.3 210.8 L383.7 210.5 L383.1 207.8 L381.7 207.5"/>
<path d="M374.5 208.7 L377.8 208.1 L380.8 208.7 L381.1 211.1 L379.1 211.7 L376.5 211.1 L374.5 208.7"/>
<path d="M382.4 212.9 L387.7 212.3 L388.7 213.5 L385.7 214.1 L382.4 212.9"/>
<path d="M388.3 212.3 L390.3 212.0 L389.7 213.5 L388.3 212.3"/>
<path d="M406.8 210.5 L409.4 209.9 L409.7 211.4 L407.1 211.4 L406.8 210.5"/>
<path d="M396.2 214.1 L398.2 213.5 L400.2 214.4 L399.5 215.9 L396.9 215.9 L396.2 214.1"/>
<path d="M418.0 204.5 L419.6 200.6 L422.6 197.6 L421.3 200.3 L418.6 204.2 L418.0 204.5"/>
<path d="M429.2 199.7 L429.5 196.7 L433.5 194.3 L436.4 194.0 L433.8 197.3 L430.8 199.7 L429.2 199.7"/>
<path d="M453.9 191.9 L453.6 190.7 L458.2 190.1 L462.8 190.7 L461.5 191.6 L456.9 192.5 L454.9 194.0 L453.9 191.9"/>
<path d="M455.5 188.3 L458.8 187.1 L461.8 188.6 L458.8 189.5 L455.5 188.3"/>
<path d="M439.1 180.6 L441.7 179.4 L443.7 180.6 L441.0 181.5 L439.1 180.6"/>
<path d="M261.2 169.2 L264.5 168.0 L266.5 168.6 L265.8 170.1 L262.5 170.1 L261.2 169.2"/>
<path d="M264.8 172.2 L265.8 173.1 L265.1 173.4 L264.8 172.2"/>
<path d="M299.4 180.6 L301.4 178.2 L304.0 177.0 L303.0 179.4 L302.0 182.4 L301.0 182.4 L299.4 180.6"/>
<path d="M287.9 187.7 L290.8 187.1 L292.2 188.0 L289.5 188.6 L287.9 187.7"/>
<path d="M290.8 186.0 L293.5 186.0 L292.2 186.6 L290.8 186.0"/>
<path d="M269.1 190.7 L263.8 192.5 L263.2 194.9 L265.8 194.3 L268.1 192.8 L269.1 190.7"/>
<path d="M261.8 196.1 L261.2 198.5 L262.2 199.1 L263.2 196.4 L261.8 196.1"/>
<path d="M268.4 195.5 L265.5 197.0 L268.4 198.8 L272.1 198.5 L269.8 197.0 L268.4 195.5"/>
<path d="M268.4 202.1 L272.4 203.0 L271.1 203.9 L268.1 203.9 L268.4 202.1"/>
<path d="M267.4 206.3 L269.8 206.3 L269.8 207.8 L267.4 207.5 L267.4 206.3"/>
<path d="M274.7 207.5 L276.3 208.1 L276.0 209.0 L274.7 208.7 L274.7 207.5"/>
<path d="M278.3 217.1 L281.0 215.3 L281.3 216.5 L278.3 217.1"/>
<path d="M299.7 237.4 L302.7 237.4 L301.4 238.2 L299.7 237.4"/>
<path d="M253.3 115.0 L257.2 115.6 L257.9 116.2 L252.0 116.8 L253.3 115.0"/>
<path d="M433.1 94.9 L436.4 94.9 L435.1 95.8 L433.1 94.9"/>
<path d="M474.0 81.8 L477.3 83.0 L475.3 83.3 L474.0 81.8"/>
<path d="M196.0 344.6 L199.9 344.6 L199.3 345.5 L196.0 344.6"/>
<path d="M120.2 309.9 L124.8 310.5 L122.2 311.1 L120.2 309.9"/>
<path d="M129.4 308.7 L132.1 309.3 L130.1 309.6 L129.4 308.7"/>
<path d="M139.6 314.1 L144.3 314.7 L141.9 315.3 L139.6 314.1"/>
<path d="M143.9 319.5 L145.2 319.8 L144.6 319.9 L143.9 319.5"/>
<path d="M123.5 309.0 L126.8 309.9 L125.5 310.2"/>
<path d="M420.0 82.7 L412.1 80.0 L402.2 77.0 L412.1 76.4 L400.2 73.4 L412.1 72.2 L395.6 72.2 L385.7 68.6 L392.3 68.0 L380.4 65.0 L381.1 63.5 L389.0 63.2 L402.2 63.2 L412.7 63.2 L414.0 68.0 L418.6 62.6 L417.3 62.0"/>
<path d="M428.5 64.4 L435.1 68.0 L451.6 70.4 L435.1 72.8 L431.8 77.0 L425.2 80.0 L420.0 82.7"/>
<path d="M428.5 62.0 L435.1 63.8 L445.0 65.6 L461.5 66.8 L474.6 65.6 L487.8 62.6 L487.8 62.0"/>
<path d="M448.3 74.0 L461.5 72.8 L471.3 75.2 L461.5 78.2 L451.6 77.0 L448.3 74.0"/>
<path d="M447.0 71.0 L453.6 70.7 L452.2 72.5 L447.0 71.0"/>
<path d="M494.4 68.3 L504.3 68.6 L497.7 69.2 L494.4 68.3"/>
<path d="M393.6 136.0 L398.9 133.3 L405.5 132.1 L410.1 130.3 L413.4 127.9 L416.0 126.1"/>
<path d="M404.1 133.0 L410.1 132.1 L415.3 130.6"/>
<path d="M421.9 125.5 L427.9 124.6 L425.9 126.7 L421.9 125.5"/>
<path d="M461.5 118.9 L465.4 117.1 L468.1 118.6"/>
<path d="M251.6 290.3 L255.9 288.9 L256.6 290.7 L262.5 290.1 L266.8 289.8 L269.1 291.9 L264.5 295.5 L265.1 299.1 L263.8 300.3 L264.5 302.1 L260.5 303.6 L263.8 306.9 L261.8 310.5 L263.8 312.3 L260.5 316.2 L261.2 318.5"/>
<path d="M298.1 281.2 L300.7 283.0 L305.3 284.2 L309.9 285.4 L314.6 284.5 L319.2 286.0 L321.1 286.5 L323.1 287.1 L326.4 287.4 L331.0 287.0"/>
<path d="M359.3 278.8 L360.7 277.0 L356.1 275.8 L355.4 274.6 L356.1 272.5 L353.8 271.0 L356.7 269.2 L354.7 266.8 L356.4 266.2"/>
<path d="M356.4 266.2 L354.7 264.7 L354.7 263.2 L350.1 264.4 L350.1 263.2 L352.4 260.8 L356.1 257.8 L356.1 256.6 L360.0 256.0"/>
<path d="M360.0 256.0 L359.7 253.6 L361.3 250.0 L364.0 247.6 L358.7 246.7 L354.1 246.4 L351.8 244.9"/>
<path d="M351.8 244.9 L348.2 244.3 L345.5 244.0 L341.9 242.8 L341.9 240.7 L337.6 241.9 L337.3 239.8 L333.7 238.6 L331.0 237.1 L328.4 237.1 L326.7 235.1"/>
<path d="M351.8 244.9 L352.8 242.8 L350.5 240.7 L347.8 242.8 L348.2 244.3"/>
<path d="M350.5 240.7 L352.1 239.5 L349.5 237.1"/>
<path d="M349.5 237.1 L347.5 236.8 L348.5 234.8 L342.9 233.0 L338.3 233.6 L332.3 233.9"/>
<path d="M349.5 237.1 L350.1 234.5 L349.5 230.9 L354.1 230.3 L356.4 228.2 L354.1 226.1 L356.4 225.8 L357.4 221.9"/>
<path d="M366.9 212.3 L372.2 212.9"/>
<path d="M403.8 218.3 L404.8 221.9 L403.2 224.6 L406.5 226.4 L407.1 229.7 L406.8 232.1 L408.8 235.1 L407.4 236.6"/>
<path d="M407.4 236.6 L404.1 235.7 L398.9 237.4 L392.3 239.5 L389.7 239.8 L392.3 242.2 L393.3 244.9 L398.2 247.6 L401.2 249.1"/>
<path d="M401.2 249.1 L398.5 250.3 L395.6 252.1 L393.9 253.0 L395.6 255.4 L394.9 256.6 L390.3 256.0 L382.4 257.2 L378.8 256.3 L377.1 257.8 L373.2 256.3"/>
<path d="M373.2 256.3 L368.6 255.7 L365.3 256.0 L360.0 256.0"/>
<path d="M373.2 256.3 L372.9 259.0 L378.8 260.2 L378.8 262.3"/>
<path d="M356.4 266.2 L361.7 265.9 L365.3 263.2 L365.6 264.1 L369.2 266.5 L371.2 263.2 L376.1 264.1 L378.8 262.3"/>
<path d="M378.8 260.5 L382.4 260.8 L385.7 259.6 L390.3 259.3 L391.6 261.4 L400.2 262.6"/>
<path d="M400.2 262.6 L398.2 264.4 L399.5 266.8 L400.9 268.0"/>
<path d="M400.2 262.6 L405.5 263.2 L408.8 261.7 L416.0 260.5"/>
<path d="M416.0 260.5 L418.6 257.2 L422.6 255.4 L422.9 253.6"/>
<path d="M422.9 253.6 L421.6 250.0 L415.3 249.1 L408.8 247.6 L406.8 250.0 L401.2 249.1"/>
<path d="M407.4 236.6 L410.7 236.0 L414.0 237.4 L417.3 237.7 L417.3 239.8 L421.3 239.2 L426.5 239.8 L428.5 241.6 L434.1 244.6"/>
<path d="M434.1 244.6 L429.2 247.0 L423.3 248.5 L421.6 250.0"/>
<path d="M434.1 244.6 L438.4 244.3 L440.4 246.4 L443.7 245.5 L448.3 245.2 L454.9 245.5 L458.5 247.0"/>
<path d="M422.9 253.6 L427.9 255.1 L433.8 254.8 L438.4 252.4 L445.0 250.6 L450.9 250.3 L455.9 251.2"/>
<path d="M455.9 251.2 L458.5 247.0"/>
<path d="M458.5 247.0 L459.5 244.0 L466.1 239.2 L468.7 236.6 L465.4 232.7"/>
<path d="M465.4 232.7 L465.4 229.1 L462.8 227.9 L467.4 225.5 L467.4 222.5 L464.8 218.0"/>
<path d="M464.8 218.0 L460.1 215.3"/>
<path d="M460.1 215.3 L439.4 215.0"/>
<path d="M460.1 215.3 L459.5 212.0 L454.9 211.4 L450.3 210.2"/>
<path d="M464.8 218.0 L470.7 218.3 L477.9 215.9 L479.9 212.3 L485.2 210.8 L485.2 207.6"/>
<path d="M448.6 205.3 L454.9 203.3 L468.1 203.9 L474.6 204.5 L485.2 207.6"/>
<path d="M485.2 207.6 L495.4 204.8"/>
<path d="M495.4 204.8 L492.4 197.3 L490.1 196.4"/>
<path d="M470.4 194.5 L476.6 193.7 L484.5 196.4 L490.1 196.4"/>
<path d="M490.1 196.4 L491.4 194.3"/>
<path d="M492.4 187.7 L494.4 185.1"/>
<path d="M495.4 204.8 L503.6 207.2 L513.5 208.1 L512.9 212.9 L519.4 217.7 L525.4 221.3 L516.8 222.5 L519.4 229.1"/>
<path d="M465.4 232.4 L471.3 230.3 L487.8 232.1 L497.7 232.7 L510.9 233.6 L511.5 232.1 L519.4 229.1"/>
<path d="M519.4 229.1 L532.6 227.6 L543.2 235.4 L544.5 239.2 L557.0 239.5 L566.2 242.5 L574.4 244.0 L571.5 248.8 L572.8 253.6 L562.3 256.0 L561.6 259.0"/>
<path d="M455.9 251.2 L460.8 253.6 L471.3 253.9 L485.2 252.1 L491.1 250.9 L497.7 252.7 L502.0 253.9 L507.3 260.8 L508.2 263.2 L500.7 262.9 L500.7 265.6 L495.7 268.9 L505.6 270.4"/>
<path d="M485.2 252.1 L489.1 254.8 L495.1 260.2 L495.7 268.9"/>
<path d="M460.8 253.6 L454.9 256.6 L449.3 263.8 L443.3 265.0"/>
<path d="M443.3 265.0 L434.5 266.2"/>
<path d="M434.5 266.2 L426.5 265.9 L419.3 262.9 L416.0 260.5"/>
<path d="M418.6 262.6 L413.0 264.4 L410.7 268.6 L406.1 267.7 L399.5 268.9"/>
<path d="M434.5 266.2 L435.1 268.6 L437.7 270.4 L435.1 272.4"/>
<path d="M435.1 272.4 L428.5 271.0 L421.3 270.1 L417.3 271.6 L414.0 270.4 L413.7 272.8 L416.7 276.4 L421.9 280.6 L426.2 283.6 L431.5 286.5"/>
<path d="M435.1 272.4 L437.4 272.2 L435.8 275.8 L439.1 277.9 L436.4 280.6 L433.1 282.1 L431.5 286.5"/>
<path d="M436.4 280.6 L443.7 284.5 L442.4 286.3"/>
<path d="M443.3 265.0 L450.9 272.5 L457.8 273.4 L459.5 276.4"/>
<path d="M459.5 276.4 L457.5 280.6 L461.5 282.7 L457.5 287.7"/>
<path d="M457.5 287.7 L451.6 288.0 L445.7 290.4"/>
<path d="M437.5 290.4 L439.1 286.3 L442.4 286.3 L445.7 290.4 L445.0 293.7 L446.3 296.1 L448.3 296.4 L448.0 298.5 L443.7 302.7 L441.7 303.3"/>
<path d="M448.3 296.4 L454.9 294.6 L461.1 293.4"/>
<path d="M461.1 293.4 L457.5 287.7"/>
<path d="M461.1 293.4 L471.3 292.2 L476.6 294.0 L483.5 291.3"/>
<path d="M483.5 291.3 L489.8 288.9 L494.4 289.5"/>
<path d="M483.5 291.3 L485.2 293.4 L481.6 297.0"/>
<path d="M459.5 276.4 L461.5 278.8 L471.3 279.1 L478.6 279.7 L487.8 277.0 L498.4 279.1"/>
<path d="M493.1 178.5 L503.0 174.0 L516.1 164.4 L508.2 159.3 L506.3 153.0 L508.2 147.6 L501.7 140.4 L507.6 135.7 L497.7 132.7 L500.3 128.5 L500.7 127.6"/>
<path d="M500.7 127.6 L503.0 124.9 L494.4 121.9 L481.2 123.7 L479.3 126.7 L474.0 130.3 L461.5 129.7 L452.2 126.1 L445.3 127.5"/>
<path d="M445.3 127.5 L454.2 130.9 L465.7 134.5 L465.1 138.6 L467.4 144.6 L469.0 147.0"/>
<path d="M445.3 127.5 L441.7 131.5 L429.2 130.9 L427.9 133.9 L416.0 139.8 L411.4 144.0 L405.5 145.2 L406.1 150.0 L400.2 154.2 L402.8 155.1 L401.5 157.8 L389.7 160.2 L390.3 168.0 L391.0 171.6 L394.6 173.7 L390.3 175.8 L392.9 179.4 L387.7 182.7 L386.7 187.7 L383.1 187.1"/>
<path d="M500.7 127.6 L512.9 123.1"/>
<path d="M295.4 330.9 L298.1 334.5 L298.7 339.2 L299.1 341.9 L301.4 346.4 L302.0 348.8 L293.5 348.8 L290.2 350.6 L285.9 351.5 L285.9 356.0 L280.3 359.0 L277.0 361.4"/>
<path d="M366.6 319.8 L364.6 322.5 L364.9 329.7 L364.0 333.6 L359.3 336.8 L359.7 342.2 L364.6 346.4 L369.6 348.8 L372.5 359.6"/>
<path d="M386.0 342.5 L385.7 345.8 L377.8 351.2 L375.8 358.4 L372.5 359.6"/>
<path d="M372.5 359.6 L373.2 361.4"/>
<path d="M475.6 352.1 L473.7 355.4 L474.6 361.4"/>
<path d="M535.2 353.6 L539.9 364.4"/>
<path d="M544.1 347.0 L544.1 352.4 L543.2 355.4 L540.5 364.1"/>
<path d="M541.2 342.8 L544.8 341.8 L546.1 345.2 L544.1 347.0"/>
<path d="M546.9 333.6 L550.1 334.2 L551.1 336.3 L547.1 339.5 L544.8 341.8"/>
<path d="M546.1 345.2 L552.4 347.6 L565.6 341.2"/>
<path d="M565.6 341.2 L568.2 348.5 L553.7 352.4 L560.3 358.4 L557.0 361.4"/>
<path d="M565.6 341.2 L580.0 335.1 L581.4 328.5 L582.7 322.5 L588.9 318.9"/>
<path d="M546.8 325.8 L548.4 326.4 L549.7 324.3 L551.7 324.0 L551.1 320.7 L554.4 321.6 L560.3 320.4 L568.2 321.3 L578.7 318.9 L588.9 318.9"/>
<path d="M588.9 318.9 L593.2 317.4 L601.8 319.5 L605.1 318.6"/>
<path d="M568.2 348.5 L576.1 349.7 L587.3 354.8 L597.2 361.4"/>
<path d="M605.1 318.6 L606.4 321.3"/>
<path d="M605.1 318.6 L603.8 315.3 L601.1 311.1 L602.8 305.1 L605.1 303.3"/>
<path d="M605.1 303.3 L602.4 301.5 L597.5 300.6 L598.2 297.3 L596.2 294.9 L590.6 292.2 L583.7 292.4"/>
<path d="M573.5 281.2 L578.1 280.3 L589.9 282.4 L598.5 286.0 L605.7 285.1 L606.4 285.4"/>
<path d="M596.2 294.9 L603.1 294.3 L606.4 293.7"/>
<path d="M605.1 303.3 L606.4 304.5"/>
<path d="M347.5 188.0 L348.7 187.4 L349.7 187.6 L348.4 188.3 L348.6 185.4 L347.4 184.6 L345.9 184.7 L344.6 185.3 L344.1 184.2 L344.8 183.6 L346.0 183.8 L348.8 182.9 L346.4 181.3 L345.3 180.1 L343.5 180.7 L342.5 179.4 L343.9 178.0 L341.9 176.9 L342.2 174.5 L344.5 174.1 L346.2 176.5 L347.8 174.6 L350.6 175.2 L347.7 175.7 L346.1 175.4 L344.7 173.2 L343.2 174.1 L344.0 172.4 L343.2 170.0 L343.2 168.3 L345.2 169.3 L346.2 167.5 L347.7 167.5 L348.7 165.8 L350.2 165.8 L352.0 167.6 L353.3 167.0 L354.3 165.4 L355.9 166.5 L356.8 164.5 L357.7 163.3 L360.3 165.1 L361.6 164.5 L361.9 162.0 L363.9 163.4 L364.9 162.3 L366.2 162.2 L367.3 160.1 L369.3 161.6 L370.6 160.0 L372.0 159.0 L373.8 158.5 L375.2 160.4 L377.0 159.1 L377.9 161.8 L379.4 161.8 L380.9 161.0 L379.9 160.3 L378.9 158.8 L377.2 159.4 L375.8 159.0 L374.3 158.8 L374.0 157.9 L374.7 157.4 L376.1 156.5 L377.6 156.0 L379.1 155.5 L380.8 155.7 L382.1 154.1 L384.5 155.1 L384.2 152.9 L384.5 151.0 L385.8 150.2 L387.3 149.7 L389.0 149.6 L389.7 148.0 L390.8 147.5 L391.0 145.9 L394.0 146.8 L393.3 144.4 L394.2 143.4 L394.8 141.9 L397.3 143.0 L398.2 141.3 L399.2 140.1 L401.2 140.8 L401.5 138.1 L403.1 137.9 L404.2 137.1 L406.1 137.0 L407.5 136.1 L408.5 134.7 L410.2 134.8 L410.8 132.6 L413.0 134.2 L414.1 132.4 L415.9 134.2 L417.0 131.8 L418.6 131.9 L420.0 131.2 L421.6 131.6 L423.2 132.4 L425.7 131.2 L423.0 130.0 L421.5 131.1 L420.0 132.5 L418.4 130.5 L416.9 131.2 L415.9 131.2 L415.9 129.7 L418.0 130.2 L419.0 129.0 L420.6 128.7 L421.7 126.9 L424.1 129.1 L425.2 127.2 L426.7 127.1 L428.2 127.0 L429.5 126.4 L430.7 125.4 L431.7 123.8 L432.9 123.1 L435.4 125.3 L435.6 122.5 L436.6 121.6 L438.7 123.0 L439.7 120.4 L441.2 120.6 L442.6 120.4 L444.2 122.7 L445.6 121.6 L446.9 120.6 L448.8 122.1 L450.3 121.6 L451.7 121.3 L453.0 121.0 L454.5 121.0 L456.1 120.2 L457.6 120.3 L459.0 121.4 L460.3 122.6 L462.0 121.5 L462.9 120.8 L464.9 121.0 L465.3 119.3 L465.2 117.0 L467.5 117.8 L468.6 116.7 L470.4 117.4 L471.6 117.0 L472.6 114.3 L474.3 116.6 L475.5 114.7 L477.2 116.6 L478.6 115.9 L480.1 113.6 L481.6 114.9 L483.3 114.9 L485.3 116.4 L482.5 115.9 L481.7 117.9 L480.5 119.1 L479.2 119.9 L477.8 120.7 L476.4 121.4 L474.6 121.3 L475.9 120.2 L477.5 120.7 L479.2 121.7 L480.1 119.0 L482.0 120.9 L483.6 120.7 L483.9 117.6 L485.7 117.9 L486.7 116.7 L488.9 118.0 L490.3 117.6 L491.4 116.6 L492.5 114.6 L494.0 115.8 L495.4 116.5 L495.6 119.1 L498.0 120.2 L499.0 117.7 L498.1 117.2 L499.4 116.2 L501.0 115.7 L502.5 116.7 L503.8 118.9 L505.5 118.3 L507.0 118.5 L508.6 118.9 L510.3 118.4 L512.0 118.1 L513.4 118.9 L514.8 119.8"/>
<path d="M348.7 187.4 L350.8 190.2"/>
<path d="M349.7 187.6 L352.7 186.8"/>
<path d="M348.4 188.3 L350.6 186.5"/>
<path d="M349.2 189.6 L347.1 187.9 L349.2 189.6"/>
<path d="M347.4 184.6 L347.9 180.6"/>
<path d="M347.1 188.0 L345.5 186.8 L347.1 188.0"/>
<path d="M345.9 184.7 L347.2 181.8"/>
<path d="M344.6 185.3 L345.4 183.8"/>
<path d="M344.1 184.2 L347.3 183.6"/>
<path d="M341.2 181.8 L343.3 180.4 L341.2 181.8"/>
<path d="M348.8 182.9 L351.0 184.5"/>
<path d="M344.7 182.0 L345.6 181.0 L344.7 182.0"/>
<path d="M345.3 180.1 L347.2 177.1"/>
<path d="M340.2 182.0 L339.5 179.3 L340.2 182.0"/>
<path d="M339.5 177.3 L340.2 175.8 L339.5 177.3"/>
<path d="M342.2 174.5 L345.5 176.4"/>
<path d="M340.1 174.4 L343.1 172.9 L340.1 174.4"/>
<path d="M347.5 176.1 L348.0 174.3 L347.5 176.1"/>
<path d="M346.1 175.4 L346.0 172.7"/>
<path d="M340.7 177.7 L339.3 174.9 L340.7 177.7"/>
<path d="M343.2 170.0 L346.4 168.9"/>
<path d="M341.4 170.5 L342.2 169.0 L341.4 170.5"/>
<path d="M343.2 168.3 L344.6 168.6"/>
<path d="M341.2 167.7 L342.4 166.9 L341.2 167.7"/>
<path d="M343.4 166.4 L345.5 166.4 L343.4 166.4"/>
<path d="M346.2 167.5 L344.9 171.3"/>
<path d="M347.7 167.5 L348.5 169.1"/>
<path d="M346.0 164.3 L347.7 164.3 L346.0 164.3"/>
<path d="M348.1 164.5 L351.6 164.1 L348.1 164.5"/>
<path d="M350.5 164.3 L352.1 164.4 L350.5 164.3"/>
<path d="M354.3 165.4 L352.9 169.1"/>
<path d="M357.7 163.3 L359.3 165.0"/>
<path d="M361.9 162.0 L363.3 163.6"/>
<path d="M362.0 159.5 L365.4 158.8 L362.0 159.5"/>
<path d="M372.0 159.0 L371.5 160.9"/>
<path d="M377.0 159.1 L375.3 163.2"/>
<path d="M379.4 161.8 L379.5 164.0"/>
<path d="M379.3 157.7 L381.0 158.6 L379.3 157.7"/>
<path d="M380.9 161.0 L384.9 162.3"/>
<path d="M377.2 159.4 L377.2 156.6"/>
<path d="M376.5 163.0 L375.2 161.9 L376.5 163.0"/>
<path d="M374.0 157.9 L377.2 157.4"/>
<path d="M369.6 158.5 L370.5 156.2 L369.6 158.5"/>
<path d="M384.5 155.1 L386.1 156.1"/>
<path d="M381.6 153.8 L382.8 153.0 L381.6 153.8"/>
<path d="M390.8 147.5 L392.2 149.6"/>
<path d="M388.3 146.8 L390.1 145.4 L388.3 146.8"/>
<path d="M391.0 145.9 L393.5 148.1"/>
<path d="M388.1 145.4 L390.5 143.4 L388.1 145.4"/>
<path d="M394.0 146.8 L396.3 147.2"/>
<path d="M393.3 144.4 L394.3 147.0"/>
<path d="M394.2 143.4 L397.1 146.4"/>
<path d="M394.8 141.9 L397.2 144.5"/>
<path d="M392.2 140.6 L394.6 139.4 L392.2 140.6"/>
<path d="M397.3 143.0 L400.7 145.2"/>
<path d="M398.2 141.3 L398.1 144.5"/>
<path d="M396.3 140.4 L398.7 139.7 L396.3 140.4"/>
<path d="M399.2 140.1 L400.9 141.1"/>
<path d="M397.6 139.2 L399.6 138.8 L397.6 139.2"/>
<path d="M401.2 140.8 L403.5 142.7"/>
<path d="M401.5 138.1 L401.8 139.6"/>
<path d="M410.8 132.6 L411.1 134.3"/>
<path d="M410.0 132.4 L411.5 132.3 L410.0 132.4"/>
<path d="M414.1 132.4 L414.6 134.7"/>
<path d="M412.9 130.6 L414.8 130.8 L412.9 130.6"/>
<path d="M418.6 131.9 L419.1 134.5"/>
<path d="M419.1 130.1 L420.6 130.4 L419.1 130.1"/>
<path d="M421.6 131.6 L422.2 133.1"/>
<path d="M419.9 129.2 L422.5 129.3 L419.9 129.2"/>
<path d="M423.0 130.0 L423.7 126.4"/>
<path d="M424.7 135.0 L421.4 134.5 L424.7 135.0"/>
<path d="M415.9 131.2 L417.0 130.1"/>
<path d="M419.0 129.0 L419.4 132.9"/>
<path d="M418.7 125.7 L420.6 125.6 L418.7 125.7"/>
<path d="M421.7 126.9 L423.9 129.9"/>
<path d="M425.1 125.3 L427.0 125.2 L425.1 125.3"/>
<path d="M428.2 127.0 L430.7 129.0"/>
<path d="M425.9 124.7 L428.7 124.3 L425.9 124.7"/>
<path d="M429.1 121.7 L432.6 121.1 L429.1 121.7"/>
<path d="M432.4 122.9 L435.7 121.9 L432.4 122.9"/>
<path d="M433.1 121.7 L436.3 120.4 L433.1 121.7"/>
<path d="M436.2 118.6 L438.6 118.4 L436.2 118.6"/>
<path d="M439.7 120.4 L440.1 123.3"/>
<path d="M441.2 120.6 L440.4 122.9"/>
<path d="M439.4 118.4 L442.7 118.7 L439.4 118.4"/>
<path d="M444.2 122.7 L444.7 125.2"/>
<path d="M446.9 120.6 L446.4 122.4"/>
<path d="M448.8 122.1 L449.4 124.4"/>
<path d="M446.2 119.0 L449.7 118.6 L446.2 119.0"/>
<path d="M453.0 121.0 L452.6 124.6"/>
<path d="M454.5 121.0 L453.5 122.3"/>
<path d="M453.9 117.7 L455.9 118.5 L453.9 117.7"/>
<path d="M458.4 119.2 L460.0 119.9 L458.4 119.2"/>
<path d="M459.3 117.4 L462.7 118.5 L459.3 117.4"/>
<path d="M462.0 121.5 L462.7 123.5"/>
<path d="M462.9 120.8 L463.7 122.9"/>
<path d="M465.2 117.0 L469.2 118.8"/>
<path d="M465.8 115.8 L467.6 115.6 L465.8 115.8"/>
<path d="M468.1 115.5 L471.0 114.9 L468.1 115.5"/>
<path d="M475.5 114.7 L475.7 116.6"/>
<path d="M479.0 111.1 L481.7 111.9 L479.0 111.1"/>
<path d="M481.6 114.9 L480.6 116.9"/>
<path d="M483.3 114.9 L482.1 117.7"/>
<path d="M486.6 115.1 L486.4 117.5 L486.6 115.1"/>
<path d="M481.7 117.9 L482.0 115.7"/>
<path d="M480.5 119.1 L479.8 116.2"/>
<path d="M477.8 120.7 L476.5 118.5"/>
<path d="M474.6 121.3 L470.4 122.4"/>
<path d="M475.9 120.2 L477.6 123.6"/>
<path d="M477.5 120.7 L478.1 122.7"/>
<path d="M479.2 121.7 L480.6 124.0"/>
<path d="M480.1 119.0 L480.7 120.6"/>
<path d="M483.6 120.7 L483.2 122.7"/>
<path d="M485.7 117.9 L487.4 119.0"/>
<path d="M483.3 116.8 L486.7 115.9 L483.3 116.8"/>
<path d="M484.7 116.2 L487.8 115.3 L484.7 116.2"/>
<path d="M486.4 115.1 L488.5 114.7 L486.4 115.1"/>
<path d="M490.3 117.6 L490.2 120.2"/>
<path d="M487.3 114.8 L490.4 114.0 L487.3 114.8"/>
<path d="M491.4 116.6 L492.7 117.6"/>
<path d="M494.0 115.8 L491.1 119.0"/>
<path d="M494.8 112.9 L496.1 114.4 L494.8 112.9"/>
<path d="M495.4 116.5 L492.1 118.2"/>
<path d="M495.6 119.1 L494.4 120.9"/>
<path d="M496.0 116.6 L498.4 116.6 L496.0 116.6"/>
<path d="M499.0 117.7 L502.7 118.8"/>
<path d="M501.0 115.7 L501.6 119.4"/>
<path d="M499.8 115.2 L502.3 116.1 L499.8 115.2"/>
<path d="M503.8 118.9 L504.4 120.6"/>
<path d="M504.8 114.9 L507.3 115.9 L504.8 114.9"/>
<path d="M508.6 118.9 L508.7 122.9"/>
<path d="M509.8 116.5 L511.4 117.4 L509.8 116.5"/>
<path d="M347.5 188.0 L348.7 187.1 L350.1 187.8 L348.5 186.8 L346.5 186.9 L345.4 184.6 L344.4 183.1 L345.7 181.8 L347.6 182.4 L346.5 181.1 L345.1 180.6 L343.0 181.3 L341.9 179.6 L342.0 177.0 L342.7 175.2 L344.5 174.3 L346.2 175.3 L347.8 174.6 L349.8 175.2 L347.8 175.3 L346.0 175.7 L344.6 174.1 L343.8 173.6 L344.0 172.4 L343.5 170.1 L342.8 167.9 L345.3 168.1 L346.9 167.5 L349.0 168.4 L350.3 166.2 L352.2 167.0 L354.0 166.9 L355.4 165.9 L357.1 165.4 L358.9 165.6 L359.8 164.1 L360.6 162.4 L362.3 161.8 L364.0 161.2 L365.9 161.4 L367.6 161.5 L369.2 161.3 L370.8 160.9 L372.2 159.5 L373.8 159.1 L375.4 161.0 L377.2 161.5 L379.5 159.7 L380.8 160.9 L379.7 159.9 L377.5 160.8 L376.4 159.1 L374.5 159.1 L373.9 157.7 L374.4 156.6 L376.3 156.9 L377.8 156.5 L379.2 155.7 L380.8 156.0 L382.1 154.2 L383.9 154.7 L384.8 153.3 L384.6 151.2 L386.7 151.7 L387.3 149.8 L388.7 149.1 L390.5 149.0 L391.5 147.2 L392.4 145.3 L393.4 143.6 L395.9 143.2 L397.3 142.5 L399.1 142.1 L400.2 140.5 L401.4 139.1 L403.7 139.8 L405.3 138.9 L405.7 136.5 L407.4 136.0 L408.5 134.6 L410.2 134.7 L411.6 134.2 L412.8 133.6 L414.4 132.8 L416.1 132.8 L417.8 132.8 L419.6 133.2 L421.2 132.1 L422.8 131.5 L425.2 131.1 L422.7 130.8 L420.9 130.5 L419.0 130.9 L417.2 132.5 L415.1 131.7 L415.9 129.7 L417.8 129.9 L418.6 128.2 L420.7 129.2 L422.1 128.1 L423.9 128.4 L425.6 128.4 L426.4 125.6 L428.5 126.3 L430.3 126.3 L431.6 125.1 L433.3 124.8 L435.2 124.8 L436.3 122.4 L438.7 122.9 L440.1 120.9 L441.8 121.0 L443.6 121.9 L445.3 121.9 L446.8 120.1 L448.5 120.8 L450.0 120.2 L451.6 119.8 L453.3 120.4 L455.0 120.5 L456.6 121.6 L458.3 121.4 L460.2 120.5 L461.9 120.9 L463.1 121.0 L464.4 120.6 L466.0 119.8 L465.4 117.1 L468.1 117.9 L470.0 117.6 L471.4 116.0 L473.0 115.4 L474.7 115.1 L476.4 114.5 L478.1 114.5 L479.9 115.0"/>
<path d="M350.1 187.8 L353.9 188.0"/>
<path d="M348.5 186.8 L349.0 185.4"/>
<path d="M346.7 188.1 L345.7 187.2 L346.7 188.1"/>
<path d="M344.4 183.1 L346.7 184.2"/>
<path d="M340.3 182.2 L341.6 180.5 L340.3 182.2"/>
<path d="M344.0 179.1 L346.4 179.2 L344.0 179.1"/>
<path d="M347.6 182.4 L350.6 182.3"/>
<path d="M343.7 181.9 L344.8 180.4 L343.7 181.9"/>
<path d="M346.5 181.1 L349.9 178.4"/>
<path d="M344.5 174.3 L342.6 177.4"/>
<path d="M349.8 175.2 L351.7 174.8"/>
<path d="M346.0 175.7 L347.8 172.2"/>
<path d="M339.8 170.2 L340.5 168.7 L339.8 170.2"/>
<path d="M343.8 166.3 L345.8 166.3 L343.8 166.3"/>
<path d="M346.9 167.5 L347.7 169.0"/>
<path d="M352.2 167.0 L351.8 169.1"/>
<path d="M357.1 165.4 L360.1 167.6"/>
<path d="M358.9 165.6 L359.9 168.7"/>
<path d="M359.8 164.1 L359.6 166.8"/>
<path d="M360.6 162.4 L362.1 163.4"/>
<path d="M365.9 161.4 L367.2 163.0"/>
<path d="M365.2 158.2 L368.5 158.0 L365.2 158.2"/>
<path d="M367.9 158.2 L369.3 158.4 L367.9 158.2"/>
<path d="M370.8 160.9 L372.6 164.1"/>
<path d="M372.2 159.5 L373.3 161.9"/>
<path d="M375.4 161.0 L374.7 164.3"/>
<path d="M377.2 161.5 L376.4 165.0"/>
<path d="M380.8 160.9 L385.2 161.8"/>
<path d="M378.8 161.3 L381.2 159.1 L378.8 161.3"/>
<path d="M374.5 159.1 L374.8 156.3"/>
<path d="M374.0 154.6 L376.4 154.1 L374.0 154.6"/>
<path d="M384.8 153.3 L387.1 153.8"/>
<path d="M382.4 150.9 L385.6 149.5 L382.4 150.9"/>
<path d="M383.1 148.5 L385.9 147.5 L383.1 148.5"/>
<path d="M387.3 149.8 L388.4 153.0"/>
<path d="M384.9 147.5 L386.8 147.0 L384.9 147.5"/>
<path d="M386.6 147.3 L388.3 146.9 L386.6 147.3"/>
<path d="M390.5 149.0 L390.9 151.6"/>
<path d="M390.3 145.8 L393.0 143.5 L390.3 145.8"/>
<path d="M395.9 143.2 L398.7 144.2"/>
<path d="M397.3 142.5 L398.0 143.9"/>
<path d="M395.1 140.6 L397.3 139.9 L395.1 140.6"/>
<path d="M395.6 138.9 L398.7 137.9 L395.6 138.9"/>
<path d="M400.2 140.5 L401.4 142.2"/>
<path d="M401.3 136.5 L402.8 136.3 L401.3 136.5"/>
<path d="M405.7 136.5 L407.6 139.9"/>
<path d="M408.3 133.4 L410.7 132.9 L408.3 133.4"/>
<path d="M411.6 134.2 L413.5 135.6"/>
<path d="M409.0 131.9 L411.8 131.2 L409.0 131.9"/>
<path d="M412.8 133.6 L412.4 135.4"/>
<path d="M416.1 132.8 L418.0 136.3"/>
<path d="M414.5 130.6 L417.0 130.7 L414.5 130.6"/>
<path d="M417.8 132.8 L418.4 136.4"/>
<path d="M415.7 129.1 L418.9 129.2 L415.7 129.1"/>
<path d="M417.3 129.1 L420.7 129.1 L417.3 129.1"/>
<path d="M425.2 131.1 L427.5 130.1"/>
<path d="M424.0 135.3 L421.5 134.8 L424.0 135.3"/>
<path d="M420.9 130.5 L421.2 126.1"/>
<path d="M418.8 134.3 L415.6 133.8 L418.8 134.3"/>
<path d="M415.1 131.7 L416.2 130.6"/>
<path d="M414.2 130.1 L417.3 128.7 L414.2 130.1"/>
<path d="M418.6 128.2 L419.3 130.9"/>
<path d="M418.8 126.4 L421.0 126.3 L418.8 126.4"/>
<path d="M422.1 128.1 L423.1 131.1"/>
<path d="M419.9 125.1 L422.5 124.9 L419.9 125.1"/>
<path d="M426.3 124.7 L429.3 124.2 L426.3 124.7"/>
<path d="M427.7 123.8 L430.9 123.3 L427.7 123.8"/>
<path d="M438.7 122.9 L438.1 126.9"/>
<path d="M436.4 120.2 L439.1 119.8 L436.4 120.2"/>
<path d="M438.9 118.6 L440.9 119.0 L438.9 118.6"/>
<path d="M441.8 121.0 L441.2 123.9"/>
<path d="M440.6 118.5 L442.6 118.9 L440.6 118.5"/>
<path d="M442.7 119.7 L444.1 120.1 L442.7 119.7"/>
<path d="M443.6 117.8 L446.4 118.1 L443.6 117.8"/>
<path d="M451.6 119.8 L451.1 123.5"/>
<path d="M453.3 120.4 L454.9 123.9"/>
<path d="M455.0 120.5 L454.2 123.6"/>
<path d="M454.6 117.8 L456.1 118.5 L454.6 117.8"/>
<path d="M456.6 121.6 L457.0 124.0"/>
<path d="M456.2 118.8 L457.7 119.5 L456.2 118.8"/>
<path d="M457.4 119.2 L459.8 120.0 L457.4 119.2"/>
<path d="M463.1 121.0 L465.6 123.1"/>
<path d="M460.9 119.7 L464.0 119.0 L460.9 119.7"/>
<path d="M461.9 120.1 L463.4 118.8 L461.9 120.1"/>
<path d="M465.8 114.0 L467.3 114.0 L465.8 114.0"/>
<path d="M471.4 116.0 L471.5 118.5"/>
<path d="M472.1 113.6 L473.6 113.9 L472.1 113.6"/>
<path d="M476.4 114.5 L476.2 116.3"/>
<path d="M383.1 187.1 L381.9 186.8 L379.8 185.2 L380.2 183.7 L380.5 182.7 L378.9 184.2 L378.9 185.9 L377.4 186.4 L376.2 187.8 L373.9 187.7 L371.8 188.4 L370.3 189.1 L369.2 190.2 L368.1 191.3 L366.0 191.3 L364.3 192.1 L362.6 192.8"/>
<path d="M380.8 189.6 L379.9 188.4 L380.8 189.6"/>
<path d="M378.1 187.7 L377.3 185.5 L378.1 187.7"/>
<path d="M376.6 184.0 L377.3 182.6 L376.6 184.0"/>
<path d="M380.5 182.7 L379.6 180.5"/>
<path d="M378.9 184.2 L377.6 182.4"/>
<path d="M382.0 184.2 L380.8 186.0 L382.0 184.2"/>
<path d="M378.9 185.9 L375.6 184.5"/>
<path d="M380.0 187.4 L376.7 188.7 L380.0 187.4"/>
<path d="M376.2 187.8 L375.0 183.6"/>
<path d="M373.9 187.7 L374.5 185.3"/>
<path d="M375.4 191.4 L373.9 191.2 L375.4 191.4"/>
<path d="M372.6 190.4 L370.2 191.3 L372.6 190.4"/>
<path d="M369.2 190.2 L367.1 186.6"/>
<path d="M368.1 191.3 L367.2 190.1"/>
<path d="M369.9 192.9 L367.8 193.4 L369.9 192.9"/>
<path d="M367.7 193.7 L366.0 193.8 L367.7 193.7"/>
<path d="M366.4 195.2 L364.4 195.3 L366.4 195.2"/>
<path d="M420.0 82.7 L418.4 82.2 L416.8 81.6 L415.0 81.6 L413.8 80.0 L412.2 79.6 L410.5 79.3 L408.5 79.8 L407.3 77.9 L405.5 78.0 L403.7 77.9 L402.8 77.0 L403.8 76.4 L405.5 77.4 L407.2 77.3 L408.8 77.4 L410.4 76.1 L411.4 76.1 L410.4 76.6 L409.0 76.2 L407.6 75.4 L406.0 75.2 L404.7 74.3 L403.3 73.6 L401.5 74.5 L400.0 73.3 L401.9 73.2 L403.5 72.5 L405.2 72.3 L406.9 72.1 L408.7 72.7 L410.3 71.9 L412.6 72.3 L410.4 72.8 L408.8 71.5 L407.1 71.4 L405.5 73.0 L403.8 71.3 L402.2 72.0 L400.5 71.8 L398.9 71.8 L397.2 72.9 L395.7 71.5 L394.4 71.2 L392.9 70.8 L391.3 70.8 L390.0 70.0 L388.6 69.5 L387.3 68.5 L386.1 68.7 L387.4 69.0 L389.0 68.3 L390.7 68.9 L391.8 67.8 L391.0 66.9 L389.2 67.8 L388.0 66.1 L386.4 66.3 L385.0 65.5 L383.3 66.1 L381.9 65.4 L381.2 64.6 L380.6 62.8 L382.7 63.1 L384.2 62.5 L385.8 63.5 L387.4 63.5 L389.0 63.5 L390.6 62.6 L392.3 63.4 L393.9 63.7 L395.6 62.5 L397.2 63.9 L398.9 63.9 L400.5 63.1 L402.2 63.5 L403.7 64.1 L405.2 62.9 L406.7 62.9 L408.2 63.2 L409.7 62.6 L411.2 62.6 L412.5 63.5 L412.4 65.0 L413.2 66.5 L413.9 68.6 L415.0 66.5 L415.9 65.0 L417.5 64.0 L418.8 62.6 L417.3 62.0"/>
<path d="M413.8 80.0 L413.5 78.4"/>
<path d="M412.2 79.6 L414.4 77.7"/>
<path d="M410.5 79.3 L410.8 78.3"/>
<path d="M410.7 81.6 L409.1 80.6 L410.7 81.6"/>
<path d="M403.8 76.4 L403.5 77.5"/>
<path d="M407.2 77.3 L406.6 78.6"/>
<path d="M407.0 73.6 L410.1 73.9 L407.0 73.6"/>
<path d="M410.4 76.1 L409.6 77.5"/>
<path d="M411.4 76.1 L412.6 75.9"/>
<path d="M409.0 78.8 L407.7 78.0 L409.0 78.8"/>
<path d="M407.6 75.4 L408.7 74.3"/>
<path d="M407.1 77.7 L404.1 76.4 L407.1 77.7"/>
<path d="M404.7 74.3 L404.4 71.3"/>
<path d="M401.5 74.5 L401.4 72.3"/>
<path d="M403.5 72.5 L402.7 75.2"/>
<path d="M406.8 71.1 L410.3 71.3 L406.8 71.1"/>
<path d="M411.7 74.3 L409.1 73.8 L411.7 74.3"/>
<path d="M407.1 71.4 L406.8 70.4"/>
<path d="M405.5 73.0 L405.6 71.2"/>
<path d="M407.1 74.6 L403.8 74.1 L407.1 74.6"/>
<path d="M402.2 72.0 L401.6 71.1"/>
<path d="M401.7 75.3 L399.3 74.8 L401.7 75.3"/>
<path d="M389.2 73.1 L386.0 71.4 L389.2 73.1"/>
<path d="M387.4 69.0 L388.9 71.0"/>
<path d="M389.0 68.3 L389.2 70.6"/>
<path d="M390.7 68.9 L391.0 69.9"/>
<path d="M391.8 67.8 L394.3 69.2"/>
<path d="M387.2 69.5 L384.3 68.3 L387.2 69.5"/>
<path d="M383.3 66.1 L383.3 64.2"/>
<path d="M384.1 68.5 L381.6 67.4 L384.1 68.5"/>
<path d="M379.7 67.1 L378.8 63.9 L379.7 67.1"/>
<path d="M381.5 61.6 L383.8 62.1 L381.5 61.6"/>
<path d="M383.5 61.6 L384.9 62.0 L383.5 61.6"/>
<path d="M389.0 63.5 L389.8 65.3"/>
<path d="M387.5 60.5 L390.4 61.0 L387.5 60.5"/>
<path d="M390.6 62.6 L390.2 64.3"/>
<path d="M392.5 59.4 L395.4 59.9 L392.5 59.4"/>
<path d="M398.9 59.9 L402.1 60.4 L398.9 59.9"/>
<path d="M400.4 59.4 L403.9 59.9 L400.4 59.4"/>
<path d="M406.7 62.9 L406.6 64.8"/>
<path d="M408.2 63.2 L409.5 65.4"/>
<path d="M411.2 62.6 L410.7 64.5"/>
<path d="M412.4 65.0 L411.0 65.3"/>
<path d="M414.5 63.0 L416.5 61.5 L414.5 63.0"/>
<path d="M418.8 62.6 L421.8 62.4"/>
<path d="M428.5 64.4 L429.9 65.1 L431.5 65.3 L432.3 66.9 L433.7 67.5 L435.4 67.2 L436.8 68.1 L438.4 68.5 L440.1 68.4 L441.8 68.4 L443.4 69.0 L445.0 69.2 L446.6 70.0 L448.2 70.2 L449.9 70.2 L452.4 70.4 L449.9 70.6 L448.4 71.6 L446.7 71.5 L445.1 72.1 L443.2 70.8 L441.8 72.4 L440.1 72.6 L438.5 73.2 L436.9 73.4 L435.1 72.8 L433.8 74.0 L433.3 75.8 L432.2 77.4 L430.5 77.5 L429.4 78.6 L428.1 79.4 L426.7 79.8 L425.2 79.9 L423.5 79.9 L422.5 81.2 L421.2 81.9 L420.0 82.7"/>
<path d="M431.5 65.3 L431.1 67.0"/>
<path d="M433.7 67.5 L433.5 69.4"/>
<path d="M435.1 64.6 L436.9 65.7 L435.1 64.6"/>
<path d="M435.3 66.3 L438.6 67.3 L435.3 66.3"/>
<path d="M438.4 68.5 L436.5 70.8"/>
<path d="M438.0 65.8 L439.5 66.5 L438.0 65.8"/>
<path d="M439.9 65.4 L441.1 66.1 L439.9 65.4"/>
<path d="M445.0 69.2 L443.4 71.1"/>
<path d="M447.6 67.7 L449.5 68.5 L447.6 67.7"/>
<path d="M449.9 70.6 L449.4 68.8"/>
<path d="M449.4 74.0 L448.0 73.7 L449.4 74.0"/>
<path d="M446.5 73.4 L444.1 73.2 L446.5 73.4"/>
<path d="M438.5 73.2 L437.7 70.8"/>
<path d="M436.9 73.4 L437.8 71.4"/>
<path d="M435.1 72.8 L434.8 71.2"/>
<path d="M433.8 74.0 L432.2 72.8"/>
<path d="M432.2 77.4 L430.0 75.9"/>
<path d="M429.4 78.6 L429.1 77.2"/>
<path d="M428.5 62.0 L430.3 62.1 L431.7 63.4 L433.5 63.4 L435.1 64.0 L436.7 64.6 L438.3 64.8 L440.1 64.3 L441.6 65.4 L443.4 65.1 L445.1 65.0 L446.6 66.5 L448.3 66.2 L450.0 65.6 L451.6 65.9 L453.3 65.5 L454.9 66.1 L456.6 65.7 L458.2 66.0 L459.8 67.3 L461.5 67.1 L463.1 66.2 L464.8 66.6 L466.4 66.1 L468.1 66.4 L469.6 65.3 L471.3 65.2 L473.0 65.4 L474.7 66.1 L476.3 65.2 L477.9 64.5 L479.5 64.1 L481.1 63.7 L482.8 63.3 L484.6 63.8 L486.2 62.9 L487.6 62.3 L487.8 62.0"/>
<path d="M431.7 63.4 L431.9 64.9"/>
<path d="M432.0 59.5 L433.3 60.4 L432.0 59.5"/>
<path d="M433.5 63.4 L433.2 65.0"/>
<path d="M435.1 64.0 L435.4 65.5"/>
<path d="M448.3 66.2 L448.2 68.6"/>
<path d="M447.2 63.7 L449.6 64.4 L447.2 63.7"/>
<path d="M451.6 65.9 L452.1 67.8"/>
<path d="M450.7 64.0 L452.7 64.7 L450.7 64.0"/>
<path d="M456.6 65.7 L455.4 68.0"/>
<path d="M459.0 63.0 L461.1 63.6 L459.0 63.0"/>
<path d="M461.5 67.1 L461.1 70.1"/>
<path d="M466.4 66.1 L466.2 67.4"/>
<path d="M465.5 64.3 L466.9 64.7 L465.5 64.3"/>
<path d="M471.3 65.2 L472.8 67.8"/>
<path d="M471.7 63.2 L473.8 63.5 L471.7 63.2"/>
<path d="M474.7 66.1 L475.0 67.8"/>
<path d="M477.9 64.5 L477.3 66.5"/>
<path d="M482.8 63.3 L483.3 64.6"/>
<path d="M481.6 61.4 L483.1 61.6 L481.6 61.4"/>
<path d="M483.0 60.2 L484.7 60.3 L483.0 60.2"/>
<path d="M485.3 59.8 L486.8 59.5 L485.3 59.8"/>
<path d="M448.3 74.0 L449.9 73.4 L451.6 74.2 L453.2 73.3 L454.9 73.7 L456.5 72.9 L458.1 72.7 L459.8 72.5 L461.5 72.4 L463.0 73.7 L464.7 74.0 L466.5 73.6 L468.0 74.7 L469.8 74.5 L471.8 75.2 L469.7 75.6 L468.1 76.2 L466.3 76.3 L464.7 77.1 L463.2 77.8 L461.5 78.5 L459.8 78.3 L458.2 77.7 L456.5 78.1 L454.8 77.6 L453.3 76.9 L451.6 76.9 L450.5 76.0 L449.3 75.1 L448.3 74.0"/>
<path d="M451.6 74.2 L451.3 75.7"/>
<path d="M454.9 73.7 L454.4 75.0"/>
<path d="M458.9 70.7 L460.3 71.0 L458.9 70.7"/>
<path d="M464.1 70.4 L466.7 71.5 L464.1 70.4"/>
<path d="M466.5 73.6 L465.8 76.3"/>
<path d="M466.2 71.2 L467.7 72.1 L466.2 71.2"/>
<path d="M468.2 70.8 L469.5 71.6 L468.2 70.8"/>
<path d="M469.8 74.5 L470.3 76.9"/>
<path d="M469.7 78.5 L467.8 78.5 L469.7 78.5"/>
<path d="M468.3 78.0 L465.4 78.4 L468.3 78.0"/>
<path d="M464.7 77.1 L465.3 74.7"/>
<path d="M462.9 81.1 L460.5 80.8 L462.9 81.1"/>
<path d="M461.3 80.4 L457.8 79.5 L461.3 80.4"/>
<path d="M458.2 77.7 L458.0 74.8"/>
<path d="M456.5 78.1 L456.2 76.8"/>
<path d="M454.8 77.6 L456.1 75.9"/>
<path d="M393.6 136.0 L394.6 134.6 L396.4 135.0 L397.5 133.8 L398.8 133.1 L400.4 132.5 L402.3 133.2 L403.7 131.6 L405.5 132.3 L406.7 130.8 L408.5 130.7 L410.4 130.9 L411.4 129.8 L412.4 128.9 L413.6 128.1 L415.1 127.6 L416.0 126.1"/>
<path d="M394.6 134.6 L395.0 136.3"/>
<path d="M393.3 134.1 L395.1 133.7 L393.3 134.1"/>
<path d="M396.4 135.0 L397.1 137.4"/>
<path d="M393.9 132.6 L396.2 132.0 L393.9 132.6"/>
<path d="M395.3 133.3 L398.6 132.2 L395.3 133.3"/>
<path d="M398.8 133.1 L399.6 134.6"/>
<path d="M400.4 132.5 L400.7 134.7"/>
<path d="M399.8 129.4 L403.4 129.3 L399.8 129.4"/>
<path d="M405.5 132.3 L405.5 134.9"/>
<path d="M403.8 129.3 L405.6 129.3 L403.8 129.3"/>
<path d="M408.4 127.7 L410.7 126.7 L408.4 127.7"/>
<path d="M412.4 128.9 L412.6 130.3"/>
<path d="M413.6 128.1 L413.8 129.9"/>
<path d="M415.1 127.6 L415.6 129.5"/>
<path d="M160.4 159.0 L162.2 158.7 L163.5 157.2 L165.7 157.0 L164.2 156.0 L165.4 154.6 L163.8 153.4 L161.8 152.6 L160.0 153.0 L158.3 152.8 L156.6 152.9 L154.9 152.7 L153.2 152.2 L151.3 152.5 L153.2 152.0 L155.0 152.2 L156.7 151.7 L158.4 151.6 L160.2 151.4 L161.9 151.4 L163.6 150.9 L165.2 150.6 L166.1 149.5 L164.8 149.2 L163.2 149.5 L161.7 148.5 L160.1 149.1 L158.4 149.1 L156.8 148.8 L155.1 148.8 L153.5 148.7 L151.8 149.0 L150.2 148.5 L148.4 148.8 L150.1 147.8 L151.6 146.7 L152.4 145.7 L153.7 145.0 L155.1 145.0 L157.1 145.6 L159.2 146.6 L158.5 144.8 L157.6 143.2 L159.3 143.2 L160.8 143.3 L162.3 143.4 L164.4 143.7 L166.4 144.4 L167.5 145.6 L168.7 146.0 L166.6 147.5 L168.1 148.9 L169.7 149.5 L170.9 150.6 L172.5 149.9 L174.2 149.4 L175.8 148.6 L176.7 146.8 L177.5 145.2 L179.2 146.2 L180.8 147.5 L182.4 146.9 L183.7 146.1 L184.7 144.7 L186.4 144.9 L188.0 145.1 L189.1 146.3 L190.0 148.0 L190.8 146.3 L191.4 145.1 L193.2 145.8 L195.4 146.1 L197.3 144.7 L199.3 144.8 L201.3 145.2 L202.1 143.7 L203.2 142.5 L205.1 143.3 L207.3 143.5 L209.2 144.4 L210.8 144.3 L212.5 144.2 L214.1 143.6 L212.6 144.6 L210.8 145.8 L212.3 147.6 L214.2 147.5 L215.9 148.0 L217.7 148.4 L219.3 148.7 L220.1 150.3 L221.4 151.5 L219.9 152.5 L218.2 152.7 L217.1 153.6 L215.5 153.5 L214.0 155.8 L211.8 155.8 L209.8 156.1 L208.2 156.9 L206.4 156.9 L204.8 157.6 L203.3 158.8 L201.6 158.3 L200.2 158.6 L198.4 159.5 L196.4 158.9 L194.5 159.2 L192.7 159.5 L191.1 159.8 L189.5 160.2 L187.8 160.3 L186.3 161.0 L184.8 161.4 L182.8 161.0 L180.9 160.5 L178.8 161.1 L176.9 160.2 L175.3 159.9 L173.7 159.6 L172.1 159.7 L170.6 159.0 L169.0 158.4 L167.3 159.0 L165.5 159.2 L163.8 159.0 L162.1 158.7 L160.4 159.0"/>
<path d="M162.2 158.7 L163.6 160.0"/>
<path d="M160.9 155.9 L158.9 155.3 L160.9 155.9"/>
<path d="M155.6 154.6 L154.0 154.0 L155.6 154.6"/>
<path d="M153.2 152.0 L153.3 152.8"/>
<path d="M161.9 151.4 L161.4 153.4"/>
<path d="M166.1 149.5 L168.1 150.2"/>
<path d="M163.2 149.5 L163.6 147.5"/>
<path d="M160.1 149.1 L159.9 148.4"/>
<path d="M153.5 148.7 L153.3 146.9"/>
<path d="M151.8 149.0 L152.5 148.0"/>
<path d="M150.1 147.8 L150.2 148.8"/>
<path d="M157.6 142.2 L158.9 143.2 L157.6 142.2"/>
<path d="M159.3 143.2 L159.4 144.7"/>
<path d="M166.6 140.6 L169.0 142.3 L166.6 140.6"/>
<path d="M167.5 145.6 L167.2 147.3"/>
<path d="M168.1 148.9 L167.4 150.1"/>
<path d="M175.8 148.6 L176.2 149.8"/>
<path d="M177.5 145.2 L177.8 146.6"/>
<path d="M190.0 148.0 L189.6 150.1"/>
<path d="M202.0 141.1 L203.8 141.2 L202.0 141.1"/>
<path d="M212.3 147.6 L211.9 149.5"/>
<path d="M222.1 153.6 L219.6 154.6 L222.1 153.6"/>
<path d="M218.6 154.9 L216.5 155.1 L218.6 154.9"/>
<path d="M187.8 160.3 L187.1 159.2"/>
<path d="M170.4 161.0 L167.1 160.2 L170.4 161.0"/>
<path d="M167.3 159.0 L167.7 158.3"/>
<path d="M167.1 162.1 L164.2 161.7 L167.1 162.1"/>
<path d="M165.3 162.3 L162.6 161.9 L165.3 162.3"/>
<path d="M162.1 158.7 L163.2 156.8"/>
</g>
<g id="green" fill="none" stroke="#050505" stroke-width="1.35" stroke-linejoin="round" stroke-linecap="round">
<path d="M177.9 65.0 L182.4 63.9 L183.5 66.7 L179.0 68.4 L173.4 68.4 L170.1 69.5"/>
<path d="M177.9 65.0 L180.2 64.7 L182.4 63.7 L183.4 65.1 L183.8 66.9 L181.1 67.0 L179.0 68.1 L177.2 68.6 L175.3 68.2 L173.5 68.5 L171.8 69.0 L170.1 69.5"/>
<path d="M178.6 61.5 L180.2 61.6 L178.6 61.5"/>
<path d="M183.4 65.1 L181.8 66.1"/>
<path d="M183.8 66.9 L183.3 65.8"/>
<path d="M181.1 67.0 L179.9 66.0"/>
<path d="M178.4 71.8 L175.9 71.3 L178.4 71.8"/>
<path d="M174.7 72.1 L173.3 71.8 L174.7 72.1"/>
<path d="M187.9 68.9 L191.3 66.7 L194.6 66.1"/>
<path d="M187.9 68.9 L189.5 67.6 L191.3 66.8 L193.0 66.6 L194.6 66.1"/>
<path d="M186.9 65.4 L188.7 64.8 L186.9 65.4"/>
<path d="M166.7 74.5 L172.3 72.3 L179.0 71.7 L183.5 72.8 L186.8 71.7"/>
<path d="M166.7 74.5 L168.4 73.3 L170.5 73.2 L172.3 72.2 L174.5 71.7 L176.8 71.9 L179.0 71.3 L181.3 72.0 L183.5 73.0 L185.1 72.2 L186.8 71.7"/>
<path d="M166.4 72.3 L169.4 71.6 L166.4 72.3"/>
<path d="M183.5 73.0 L184.3 74.4"/>
<path d="M191.3 74.5 L194.1 74.0"/>
<path d="M191.3 74.5 L194.1 74.0"/>
<path d="M172.3 76.7 L179.0 75.6 L183.5 77.3 L187.9 76.7"/>
<path d="M172.3 76.7 L174.5 75.8 L176.7 75.6 L179.1 75.0 L181.5 75.9 L183.5 76.9 L185.7 77.3 L187.9 76.7"/>
<path d="M161.2 81.8 L167.9 80.6 L175.7 80.6 L181.2 79.5 L189.1 79.0"/>
<path d="M161.2 81.8 L163.4 81.6 L165.7 81.4 L167.9 80.8 L169.8 80.9 L171.8 80.2 L173.7 80.4 L175.6 80.1 L177.5 80.3 L179.3 79.4 L181.2 79.1 L183.2 79.8 L185.2 79.3 L187.1 79.4 L189.1 79.0"/>
<path d="M165.6 84.0 L172.3 85.1 L177.9 84.0 L182.4 85.1 L186.8 83.4 L187.9 85.1"/>
<path d="M165.6 84.0 L167.9 84.4 L170.1 84.4 L172.3 84.9 L174.1 84.2 L176.0 84.2 L177.9 83.9 L180.2 84.1 L182.4 85.4 L184.7 84.4 L186.9 83.3 L187.9 85.1"/>
<path d="M180.2 84.1 L179.4 85.8"/>
<path d="M162.3 89.0 L169.0 87.9 L174.6 88.5 L179.0 87.3"/>
<path d="M162.3 89.0 L164.4 88.1 L166.7 87.9 L169.0 87.5 L170.8 88.7 L172.7 88.5 L174.5 88.1 L176.8 87.9 L179.0 87.3"/>
<path d="M170.8 88.7 L171.6 90.6"/>
<path d="M171.6 84.5 L174.5 85.3 L171.6 84.5"/>
<path d="M164.5 91.2 L170.1 92.4 L176.8 91.2 L182.4 92.4 L186.8 90.7 L194.6 90.1"/>
<path d="M164.5 91.2 L166.5 91.0 L168.1 92.4 L170.1 92.0 L172.4 92.2 L174.5 91.4 L176.8 91.0 L178.6 91.7 L180.5 91.8 L182.4 92.9 L184.6 91.5 L187.0 91.3 L188.8 90.9 L190.7 90.3 L192.7 90.9 L194.6 90.1"/>
<path d="M182.1 89.4 L185.2 88.7 L182.1 89.4"/>
<path d="M187.0 91.3 L187.5 91.9"/>
<path d="M192.7 90.9 L193.2 91.6"/>
<path d="M162.3 95.7 L169.0 96.3 L175.7 94.6 L182.4 94.0 L189.1 92.9"/>
<path d="M162.3 95.7 L164.5 95.9 L166.7 96.2 L169.0 96.8 L171.3 95.9 L173.4 95.1 L175.7 94.7 L177.9 94.1 L180.1 94.4 L182.4 94.1 L184.7 94.0 L186.9 93.7 L189.1 92.9"/>
<path d="M163.9 93.9 L165.4 94.5 L163.9 93.9"/>
<path d="M164.5 98.5 L171.2 99.1 L176.8 98.5"/>
<path d="M164.5 98.5 L166.7 99.2 L169.0 98.6 L171.2 98.9 L173.0 98.6 L175.0 99.1 L176.8 98.5"/>
<path d="M171.2 98.9 L170.4 100.4"/>
<path d="M171.9 95.9 L173.7 96.2 L171.9 95.9"/>
<path d="M128.4 102.3 L135.7 101.2 L142.4 100.6 L147.9 101.2 L154.6 100.0 L160.2 100.6 L163.6 102.3"/>
<path d="M128.4 102.3 L130.3 102.6 L132.1 102.0 L133.9 101.6 L135.7 101.4 L137.9 101.2 L140.1 100.6 L142.4 101.0 L144.3 100.3 L146.1 100.7 L147.9 101.1 L150.2 101.1 L152.4 100.2 L154.6 100.2 L156.5 100.4 L158.4 100.4 L160.1 101.0 L162.0 101.3 L163.6 102.3"/>
<path d="M129.9 98.4 L133.2 98.4 L129.9 98.4"/>
<path d="M133.9 99.5 L137.1 99.7 L133.9 99.5"/>
<path d="M147.9 101.1 L147.2 102.7"/>
<path d="M150.8 97.8 L153.2 97.9 L150.8 97.8"/>
<path d="M156.5 100.4 L156.3 101.4"/>
<path d="M128.4 102.7 L135.7 101.6 L142.4 101.0 L147.9 101.6 L154.6 100.6"/>
<path d="M128.4 102.7 L130.2 102.5 L132.0 102.2 L133.8 101.7 L135.6 101.2 L137.9 101.7 L140.1 101.0 L142.4 101.2 L144.2 101.0 L146.1 101.5 L148.0 102.0 L150.1 101.0 L152.5 101.5 L154.6 100.6"/>
<path d="M135.6 101.2 L136.1 102.0"/>
<path d="M136.3 98.7 L139.0 99.0 L136.3 98.7"/>
<path d="M141.2 98.0 L143.5 98.5 L141.2 98.0"/>
<path d="M146.1 101.5 L145.8 103.6"/>
<path d="M147.1 99.7 L148.6 100.2 L147.1 99.7"/>
<path d="M130.1 104.0 L137.9 103.4 L144.6 104.5 L152.4 104.0 L159.1 105.1 L164.7 106.7"/>
<path d="M130.1 104.0 L132.0 103.6 L134.0 104.0 L135.9 103.5 L137.9 103.6 L140.2 103.3 L142.4 104.0 L144.6 104.8 L146.5 104.3 L148.5 104.0 L150.5 104.4 L152.4 104.5 L154.7 104.2 L156.8 105.2 L159.2 104.8 L161.1 105.3 L162.8 106.4 L164.7 106.7"/>
<path d="M137.9 103.6 L137.6 105.7"/>
<path d="M136.3 100.7 L139.8 101.4 L136.3 100.7"/>
<path d="M148.5 104.0 L149.3 105.1"/>
<path d="M152.4 104.5 L152.8 105.6"/>
<path d="M142.4 106.7 L149.1 105.6 L154.6 107.3 L160.2 107.9"/>
<path d="M142.4 106.7 L144.7 106.7 L146.8 105.8 L149.1 105.2 L150.9 106.2 L153.0 106.2 L154.7 106.9 L156.5 107.1 L158.4 107.7 L160.2 107.9"/>
<path d="M148.3 101.8 L150.2 102.4 L148.3 101.8"/>
<path d="M156.5 107.1 L157.2 108.3"/>
<path d="M121.2 108.4 L126.7 110.1 L132.3 110.6"/>
<path d="M121.2 108.4 L123.0 109.1 L124.9 109.5 L126.8 109.8 L128.6 110.3 L130.5 110.3 L132.3 110.6"/>
<path d="M126.8 109.8 L126.5 110.8"/>
<path d="M128.6 110.3 L129.0 111.4"/>
<path d="M122.3 112.3 L130.1 112.3 L139.0 112.9 L145.7 114.0 L151.3 116.8 L156.9 117.9 L162.5 116.8 L165.8 113.4 L162.5 111.2 L158.0 109.5 L160.2 107.9 L163.6 102.3"/>
<path d="M122.3 112.3 L124.2 111.7 L126.2 112.7 L128.1 111.9 L130.1 112.5 L132.3 112.2 L134.6 112.4 L136.8 112.8 L139.0 112.7 L141.2 113.8 L143.5 113.6 L145.5 114.6 L147.4 115.2 L149.5 115.7 L151.1 117.3 L153.1 117.3 L155.1 117.1 L156.9 118.5 L158.7 117.5 L160.7 117.6 L162.7 117.2 L164.3 115.3 L166.1 113.4 L164.0 112.5 L162.7 110.7 L160.2 110.5 L157.9 109.5 L160.1 107.7 L161.8 106.3 L162.0 103.9 L163.6 102.3"/>
<path d="M142.4 110.5 L145.4 111.5 L142.4 110.5"/>
<path d="M145.5 114.6 L145.7 115.4"/>
<path d="M151.1 117.3 L151.2 118.2"/>
<path d="M156.9 118.5 L157.4 119.3"/>
<path d="M159.6 114.6 L162.2 113.6 L159.6 114.6"/>
<path d="M163.2 114.6 L163.7 112.3 L163.2 114.6"/>
<path d="M122.3 116.2 L127.9 115.1 L135.7 116.2 L142.4 116.8"/>
<path d="M122.3 116.2 L124.2 116.2 L126.0 115.3 L127.8 114.6 L129.8 115.7 L131.7 116.0 L133.7 115.9 L135.7 116.2 L137.9 116.1 L140.1 116.6 L142.4 116.8"/>
<path d="M131.7 116.0 L132.3 117.9"/>
<path d="M134.8 112.6 L137.3 113.4 L134.8 112.6"/>
<path d="M117.8 118.5 L125.6 117.9 L132.3 119.0 L139.0 118.5 L146.8 119.6 L154.6 120.7 L164.7 120.1 L168.0 116.8 L165.8 113.4"/>
<path d="M117.8 118.5 L119.7 117.9 L121.7 117.7 L123.6 117.5 L125.6 117.5 L127.8 118.5 L130.1 118.4 L132.3 119.5 L134.6 118.9 L136.7 118.1 L139.0 118.3 L141.0 118.4 L142.9 119.5 L144.9 119.1 L146.8 119.6 L148.8 119.9 L150.7 120.7 L152.7 120.4 L154.7 120.5 L156.6 120.2 L158.7 120.6 L160.7 120.8 L162.7 120.1 L164.9 120.5 L166.2 118.3 L167.7 116.7 L167.4 114.8 L165.8 113.4"/>
<path d="M123.6 117.5 L124.5 119.0"/>
<path d="M129.0 116.9 L131.6 117.8 L129.0 116.9"/>
<path d="M140.0 115.3 L142.7 116.2 L140.0 115.3"/>
<path d="M155.0 117.5 L158.0 117.9 L155.0 117.5"/>
<path d="M157.8 116.8 L159.2 117.2 L157.8 116.8"/>
<path d="M159.3 116.6 L161.6 117.0 L159.3 116.6"/>
<path d="M160.9 116.6 L164.1 116.9 L160.9 116.6"/>
<path d="M164.9 120.5 L165.3 121.6"/>
<path d="M167.7 116.7 L168.7 117.1"/>
<path d="M122.3 121.2 L129.0 120.1 L135.7 120.7"/>
<path d="M122.3 121.2 L124.6 121.4 L126.8 120.8 L129.0 120.4 L131.2 119.8 L133.4 120.7 L135.7 120.7"/>
<path d="M123.3 119.0 L125.1 119.2 L123.3 119.0"/>
<path d="M133.4 120.7 L132.2 122.3"/>
<path d="M164.7 120.1 L152.4 124.6 L137.9 128.5 L123.4 130.7 L112.8 132.4 L110.0 133.0"/>
<path d="M164.7 120.1 L163.1 121.3 L161.0 121.0 L159.6 122.4 L157.6 122.5 L156.0 123.6 L154.2 124.2 L152.4 124.5 L150.6 125.3 L148.6 125.1 L147.0 126.1 L145.0 126.0 L143.3 126.7 L141.6 127.7 L139.6 127.4 L137.9 128.3 L135.9 129.2 L133.7 128.6 L131.7 129.5 L129.5 129.4 L127.5 129.6 L125.4 130.2 L123.4 130.5 L121.3 131.3 L119.1 130.9 L117.1 131.9 L114.9 132.2 L112.8 132.6 L110.0 133.0"/>
<path d="M149.2 128.5 L146.1 128.8 L149.2 128.5"/>
<path d="M145.0 126.0 L144.4 125.4"/>
<path d="M139.6 127.4 L139.0 126.8"/>
<path d="M133.7 128.6 L133.1 127.9"/>
<path d="M129.4 133.2 L126.6 133.2 L129.4 133.2"/>
<path d="M124.9 133.1 L122.6 133.0 L124.9 133.1"/>
<path d="M163.6 94.5 L170.3 93.3 L177.0 95.0 L182.5 93.9 L189.9 92.8"/>
<path d="M163.6 94.5 L165.7 93.6 L168.1 94.0 L170.2 93.8 L172.4 94.2 L174.7 94.6 L177.0 94.9 L178.8 94.6 L180.7 94.5 L182.5 93.6 L184.4 93.8 L186.2 93.3 L188.1 93.5 L189.9 92.8"/>
<path d="M166.6 91.7 L168.9 91.8 L166.6 91.7"/>
<path d="M168.7 90.6 L172.0 91.2 L168.7 90.6"/>
<path d="M174.7 94.6 L173.4 95.8"/>
<path d="M178.8 94.6 L178.6 95.7"/>
<path d="M182.5 93.6 L182.2 94.6"/>
<path d="M164.7 97.3 L172.5 98.4 L177.0 96.7"/>
<path d="M164.7 97.3 L166.6 98.0 L168.6 97.6 L170.6 98.0 L172.5 98.1 L174.9 97.9 L177.0 96.7"/>
<path d="M170.6 98.0 L169.6 99.3"/>
<path d="M171.2 95.4 L173.0 95.7 L171.2 95.4"/>
<path d="M168.0 91.1 L177.0 90.6 L185.9 91.1"/>
<path d="M168.0 91.1 L170.3 91.0 L172.5 90.9 L174.7 90.7 L177.0 90.2 L179.2 90.2 L181.5 90.5 L183.7 90.6 L185.9 91.1"/>
</g></g>
<rect x="112.3" y="62.0" width="494.1" height="299.4" fill="none" stroke="#000" stroke-width="1.6"/>
<g font-size="5.8" fill="#1e1e1e" font-weight="bold">
<text x="99" y="364.5" textLength="10.3" lengthAdjust="spacingAndGlyphs">30N</text>
<text x="99" y="304.4" textLength="10.3" lengthAdjust="spacingAndGlyphs">40N</text>
<text x="99" y="244.2" textLength="10.3" lengthAdjust="spacingAndGlyphs">50N</text>
<text x="99" y="184.1" textLength="10.3" lengthAdjust="spacingAndGlyphs">60N</text>
<text x="99" y="123.9" textLength="10.3" lengthAdjust="spacingAndGlyphs">70N</text>
<text x="99" y="63.8" textLength="10.3" lengthAdjust="spacingAndGlyphs">80N</text>
<text x="112.9" y="369.4" text-anchor="middle" textLength="10.3" lengthAdjust="spacingAndGlyphs">30W</text>
<text x="178.8" y="369.4" text-anchor="middle" textLength="10.3" lengthAdjust="spacingAndGlyphs">20W</text>
<text x="244.7" y="369.4" text-anchor="middle" textLength="10.3" lengthAdjust="spacingAndGlyphs">10W</text>
<text x="310.5" y="369.4" text-anchor="middle">0</text>
<text x="376.4" y="369.4" text-anchor="middle" textLength="10.3" lengthAdjust="spacingAndGlyphs">10E</text>
<text x="442.3" y="369.4" text-anchor="middle" textLength="10.3" lengthAdjust="spacingAndGlyphs">20E</text>
<text x="508.2" y="369.4" text-anchor="middle" textLength="10.3" lengthAdjust="spacingAndGlyphs">30E</text>
<text x="574.1" y="369.4" text-anchor="middle" textLength="10.3" lengthAdjust="spacingAndGlyphs">40E</text>
</g>
<text x="249" y="40.3" font-size="11" fill="#e5526a" letter-spacing="0.8" textLength="219" lengthAdjust="spacingAndGlyphs">CFSv2 seasonal T2m anomalies (K)</text>
<text x="113.5" y="57.8" font-size="8.6" fill="#4646c4" letter-spacing="0.7" textLength="136.5" lengthAdjust="spacingAndGlyphs">Dec-Jan-Feb 2023/2024</text>
<text x="430.5" y="58.4" font-size="7.9" fill="#151515" letter-spacing="0.5" textLength="175" lengthAdjust="spacingAndGlyphs">Initial conditions: 23Aug2023-1Sep2023</text>
<text x="524" y="45.5" font-size="10.6" fill="#1c1c1c" letter-spacing="0.3" textLength="82.5" lengthAdjust="spacingAndGlyphs">NWS/NCEP/CPC</text>
<g id="logo">
<path d="M547.7 15.6 L553.6 15.2 L562.6 24.6 L565.3 26.6 L568.9 24.6 L577.3 15.2 L582.4 15.8 A17.35 15.6 0 0 1 547.7 15.6 Z" fill="#22dcdc"/>
<path d="M551.4 11 Q564.9 -4 578.4 10.5 Q574 18.5 565.3 23.8 Q556.5 18.8 551.4 11 Z" fill="#1010d8"/>
<text x="564.9" y="15.6" font-size="7" font-weight="bold" fill="#fff" text-anchor="middle" textLength="13.6" lengthAdjust="spacingAndGlyphs">noaa</text>
<path d="M561 26.6 C563.5 26.6 566.5 27.4 568.8 28.6" stroke="#b8f6f6" stroke-width="0.9" fill="none"/>
</g>
<g id="cbar">
<rect x="220.3" y="381.3" width="30.6" height="8.5" fill="#5a42cf"/>
<rect x="250.9" y="381.3" width="31.4" height="8.5" fill="#1464d2"/>
<rect x="282.3" y="381.3" width="30.3" height="8.5" fill="#1e8cf0"/>
<rect x="312.6" y="381.3" width="31.0" height="8.5" fill="#6ebaf5"/>
<rect x="373.5" y="381.3" width="31.5" height="8.5" fill="#ffa200"/>
<rect x="405.0" y="381.3" width="29.8" height="8.5" fill="#ff3805"/>
<rect x="434.8" y="381.3" width="32.1" height="8.5" fill="#c80505"/>
<rect x="466.9" y="381.3" width="29.9" height="8.5" fill="#e6aaa5"/>
<path d="M220.3 381.3 L212.0 381.3 L212.0 381.9 L207.5 381.9 L207.5 382.6 L203.5 382.6 L203.5 383.2 L199.5 383.2 L199.5 383.9 L196.0 383.9 L196.0 384.7 L193.0 384.7 L193.0 385.2 L189.8 385.2 L189.8 385.9 L193.0 385.9 L193.0 386.4 L196.0 386.4 L196.0 387.2 L199.5 387.2 L199.5 387.9 L203.5 387.9 L203.5 388.6 L207.5 388.6 L207.5 389.2 L212.0 389.2 L212.0 389.8 L220.3 389.8 Z" fill="#2a0a9c"/>
<path d="M496.8 381.3 L505.0 381.3 L505.0 381.9 L510.0 381.9 L510.0 382.6 L514.0 382.6 L514.0 383.2 L518.0 383.2 L518.0 383.9 L522.0 383.9 L522.0 384.7 L526.0 384.7 L526.0 385.2 L530.5 385.2 L530.5 385.9 L526.0 385.9 L526.0 386.4 L522.0 386.4 L522.0 387.2 L518.0 387.2 L518.0 387.9 L514.0 387.9 L514.0 388.6 L510.0 388.6 L510.0 389.2 L505.0 389.2 L505.0 389.8 L496.8 389.8 Z" fill="#8a5246"/>
<g stroke="#222" stroke-width="0.8">
<line x1="250.9" y1="381.3" x2="250.9" y2="389.8"/>
<line x1="282.3" y1="381.3" x2="282.3" y2="389.8"/>
<line x1="312.6" y1="381.3" x2="312.6" y2="389.8"/>
<line x1="343.6" y1="381.3" x2="343.6" y2="389.8"/>
<line x1="373.5" y1="381.3" x2="373.5" y2="389.8"/>
<line x1="220.3" y1="389.8" x2="343.6" y2="389.8" stroke="#1a1a6a"/>
<line x1="343.6" y1="389.8" x2="373.5" y2="389.8" stroke="#666"/>
</g>
<g font-size="6.8" fill="#111" font-weight="bold" text-anchor="middle">
<text x="220.5" y="396.8">−4</text>
<text x="251.0" y="396.8">−3</text>
<text x="282.3" y="396.8">−2</text>
<text x="312.6" y="396.8">−1</text>
<text x="344.0" y="396.8">−0.5</text>
<text x="375.0" y="396.8">0.5</text>
<text x="405.3" y="396.8">1</text>
<text x="435.5" y="396.8">2</text>
<text x="467.0" y="396.8">3</text>
<text x="497.5" y="396.8">4</text>
</g></g>
</svg></body></html>
